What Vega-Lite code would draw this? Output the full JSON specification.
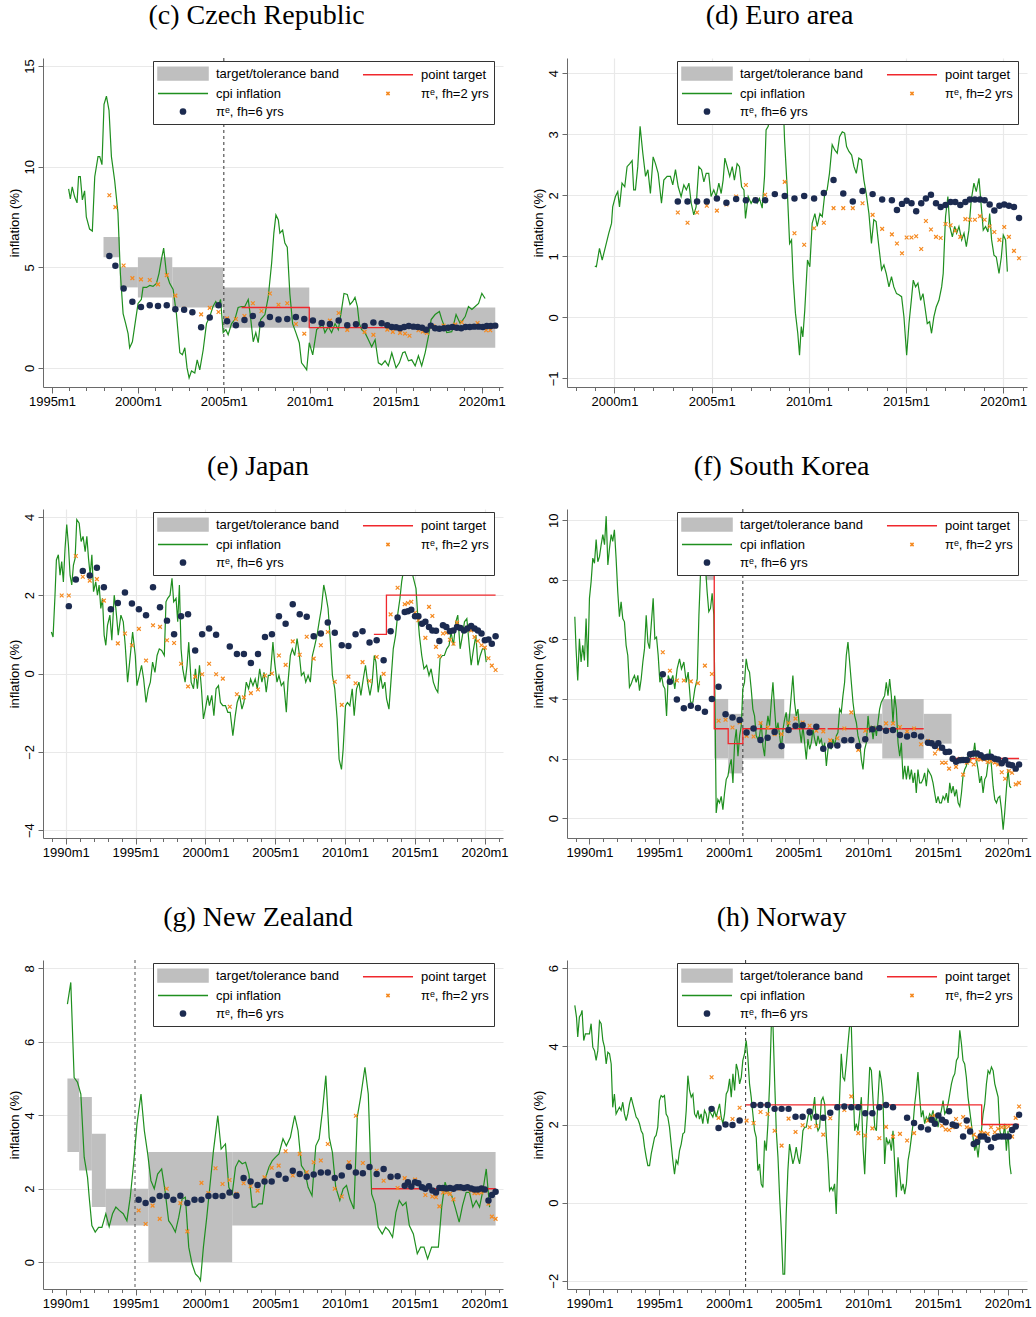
{
"$schema": "https://vega.github.io/schema/vega-lite/v6.json",
"padding": {"left": 8, "top": 1, "right": 0, "bottom": 0},
"background": "white",
"config": {
  "view": {"stroke": null},
  "font": "Liberation Sans",
  "title": {"font": "Liberation Serif", "fontSize": 28, "fontWeight": "normal", "color": "#000000", "anchor": "middle", "frame": "bounds", "baseline": "alphabetic", "offset": 28},
  "axis": {"labelFont": "Liberation Sans", "labelFontSize": 13, "labelColor": "#000000", "titleFont": "Liberation Sans", "titleFontSize": 13, "titleFontWeight": "normal", "titleColor": "#000000", "domainColor": "#6a6a6a", "tickColor": "#6a6a6a", "gridColor": "#e9e9e9", "gridWidth": 1.2, "labelPadding": 2, "tickSize": 5, "titlePadding": 2},
  "axisX": {"labelOverlap": false, "labelFlush": false},
  "legend": {"orient": "none", "legendX": 110, "legendY": 3, "columns": 2, "direction": "horizontal", "padding": 5, "strokeColor": "#333333", "fillColor": "#ffffff", "labelFont": "Liberation Sans", "labelFontSize": 13, "labelColor": "#000000", "labelOffset": 25.5, "columnPadding": 20, "rowPadding": 3, "symbolSize": 169, "symbolOffset": 17.5, "labelLimit": 300}
},
"resolve": {"scale": {"color": "independent"}, "legend": {"color": "independent"}},
"columns": 2,
"spacing": {"row": 44, "column": 23},
"datasets": {
"cz_cpi": [{"x":1995.97,"y":8.9},{"x":1996.07,"y":8.4},{"x":1996.18,"y":9.0},{"x":1996.32,"y":8.5},{"x":1996.46,"y":8.2},{"x":1996.55,"y":9.5},{"x":1996.65,"y":9.5},{"x":1996.77,"y":8.35},{"x":1996.9,"y":8.8},{"x":1997.0,"y":7.5},{"x":1997.19,"y":6.9},{"x":1997.35,"y":6.8},{"x":1997.49,"y":9.5},{"x":1997.68,"y":10.5},{"x":1997.78,"y":10.5},{"x":1997.91,"y":10.1},{"x":1998.03,"y":13.1},{"x":1998.17,"y":13.5},{"x":1998.32,"y":12.8},{"x":1998.46,"y":10.5},{"x":1998.65,"y":9.3},{"x":1998.84,"y":7.7},{"x":1998.98,"y":4.7},{"x":1999.14,"y":2.7},{"x":1999.29,"y":2.2},{"x":1999.43,"y":1.7},{"x":1999.52,"y":1.0},{"x":1999.68,"y":1.3},{"x":1999.87,"y":2.4},{"x":2000.01,"y":3.2},{"x":2000.2,"y":3.4},{"x":2000.3,"y":4.0},{"x":2000.5,"y":4.0},{"x":2000.69,"y":4.1},{"x":2000.88,"y":4.05},{"x":2001.08,"y":4.2},{"x":2001.23,"y":4.7},{"x":2001.37,"y":5.4},{"x":2001.5,"y":5.95},{"x":2001.66,"y":4.7},{"x":2001.85,"y":4.2},{"x":2002.05,"y":3.9},{"x":2002.24,"y":2.7},{"x":2002.44,"y":0.75},{"x":2002.59,"y":0.65},{"x":2002.73,"y":1.0},{"x":2002.86,"y":0.0},{"x":2002.98,"y":-0.5},{"x":2003.12,"y":-0.15},{"x":2003.31,"y":-0.25},{"x":2003.45,"y":0.4},{"x":2003.6,"y":-0.1},{"x":2003.8,"y":0.9},{"x":2003.99,"y":2.2},{"x":2004.18,"y":2.55},{"x":2004.37,"y":3.05},{"x":2004.53,"y":3.3},{"x":2004.67,"y":3.05},{"x":2004.81,"y":3.4},{"x":2004.96,"y":1.75},{"x":2005.12,"y":1.9},{"x":2005.25,"y":1.65},{"x":2005.45,"y":2.2},{"x":2005.64,"y":2.4},{"x":2005.83,"y":3.0},{"x":2006.03,"y":3.05},{"x":2006.22,"y":3.05},{"x":2006.42,"y":3.4},{"x":2006.55,"y":2.55},{"x":2006.71,"y":1.3},{"x":2006.86,"y":1.75},{"x":2007.0,"y":1.25},{"x":2007.14,"y":2.4},{"x":2007.39,"y":2.65},{"x":2007.58,"y":3.5},{"x":2007.78,"y":5.2},{"x":2007.91,"y":6.7},{"x":2008.03,"y":7.6},{"x":2008.17,"y":7.35},{"x":2008.26,"y":6.7},{"x":2008.42,"y":6.85},{"x":2008.55,"y":6.2},{"x":2008.69,"y":6.0},{"x":2008.84,"y":3.7},{"x":2009.0,"y":2.2},{"x":2009.19,"y":1.75},{"x":2009.39,"y":1.25},{"x":2009.52,"y":0.25},{"x":2009.66,"y":0.1},{"x":2009.82,"y":-0.1},{"x":2009.97,"y":1.25},{"x":2010.17,"y":0.65},{"x":2010.4,"y":1.9},{"x":2010.59,"y":2.05},{"x":2010.75,"y":2.15},{"x":2010.88,"y":1.75},{"x":2011.08,"y":2.05},{"x":2011.27,"y":1.75},{"x":2011.47,"y":2.2},{"x":2011.66,"y":1.9},{"x":2011.85,"y":2.9},{"x":2011.99,"y":3.7},{"x":2012.18,"y":3.65},{"x":2012.34,"y":3.15},{"x":2012.5,"y":3.3},{"x":2012.63,"y":3.5},{"x":2012.77,"y":3.05},{"x":2012.88,"y":2.2},{"x":2013.02,"y":1.9},{"x":2013.21,"y":1.75},{"x":2013.41,"y":1.4},{"x":2013.6,"y":1.05},{"x":2013.8,"y":1.4},{"x":2013.99,"y":0.25},{"x":2014.18,"y":0.15},{"x":2014.38,"y":0.35},{"x":2014.57,"y":0.1},{"x":2014.77,"y":0.75},{"x":2015.02,"y":0.0},{"x":2015.21,"y":0.25},{"x":2015.41,"y":0.75},{"x":2015.54,"y":0.8},{"x":2015.74,"y":0.35},{"x":2015.93,"y":0.4},{"x":2016.13,"y":0.1},{"x":2016.32,"y":0.6},{"x":2016.51,"y":0.1},{"x":2016.71,"y":0.75},{"x":2016.9,"y":1.55},{"x":2017.06,"y":2.4},{"x":2017.29,"y":2.65},{"x":2017.54,"y":2.8},{"x":2017.68,"y":2.4},{"x":2017.97,"y":1.75},{"x":2018.26,"y":1.8},{"x":2018.51,"y":2.65},{"x":2018.75,"y":2.2},{"x":2019.04,"y":2.55},{"x":2019.23,"y":3.05},{"x":2019.43,"y":2.9},{"x":2019.62,"y":3.05},{"x":2019.82,"y":3.2},{"x":2020.01,"y":3.7},{"x":2020.2,"y":3.45}],
"cz_f2": [{"x":1998.34,"y":8.58},{"x":1998.69,"y":7.99},{"x":1999.17,"y":5.09},{"x":1999.68,"y":4.46},{"x":2000.18,"y":4.4},{"x":2000.69,"y":4.37},{"x":2001.17,"y":4.15},{"x":2001.68,"y":4.61},{"x":2002.18,"y":3.59},{"x":2002.69,"y":2.94},{"x":2003.68,"y":2.66},{"x":2004.18,"y":2.98},{"x":2004.69,"y":2.78},{"x":2005.19,"y":2.46},{"x":2005.7,"y":2.43},{"x":2006.2,"y":2.58},{"x":2006.69,"y":3.21},{"x":2007.19,"y":2.83},{"x":2007.68,"y":3.7},{"x":2008.18,"y":3.14},{"x":2008.69,"y":3.21},{"x":2009.19,"y":2.18},{"x":2009.68,"y":1.7},{"x":2010.18,"y":2.32},{"x":2010.69,"y":2.27},{"x":2011.17,"y":2.35},{"x":2011.68,"y":2.73},{"x":2012.18,"y":1.89},{"x":2012.69,"y":2.2},{"x":2013.19,"y":1.79},{"x":2013.7,"y":1.64},{"x":2014.18,"y":2.2},{"x":2014.51,"y":1.9},{"x":2014.83,"y":1.79},{"x":2015.25,"y":1.74},{"x":2015.54,"y":1.7},{"x":2015.8,"y":1.6},{"x":2016.32,"y":1.87},{"x":2016.57,"y":1.8},{"x":2016.81,"y":1.74},{"x":2017.19,"y":2.07},{"x":2017.78,"y":2.1},{"x":2018.46,"y":2.15},{"x":2018.84,"y":2.27},{"x":2019.76,"y":2.23},{"x":2020.26,"y":1.87},{"x":2020.5,"y":1.87},{"x":2020.79,"y":2.1}],
"cz_f6": [{"x":1998.34,"y":5.56},{"x":1998.69,"y":5.08},{"x":1999.17,"y":3.94},{"x":1999.68,"y":3.29},{"x":2000.18,"y":3.03},{"x":2000.69,"y":3.11},{"x":2001.17,"y":3.08},{"x":2001.68,"y":3.11},{"x":2002.18,"y":2.91},{"x":2002.69,"y":2.89},{"x":2003.17,"y":2.76},{"x":2003.68,"y":2.02},{"x":2004.18,"y":2.5},{"x":2004.69,"y":3.11},{"x":2005.19,"y":2.32},{"x":2005.7,"y":2.12},{"x":2006.2,"y":2.38},{"x":2006.69,"y":2.58},{"x":2007.19,"y":2.17},{"x":2007.68,"y":2.53},{"x":2008.18,"y":2.41},{"x":2008.69,"y":2.43},{"x":2009.19,"y":2.53},{"x":2009.68,"y":2.43},{"x":2010.18,"y":2.35},{"x":2010.69,"y":2.23},{"x":2011.17,"y":2.18},{"x":2011.68,"y":2.36},{"x":2012.18,"y":2.12},{"x":2012.69,"y":2.17},{"x":2013.19,"y":2.08},{"x":2013.7,"y":2.25},{"x":2014.18,"y":2.22},{"x":2014.51,"y":2.12},{"x":2014.77,"y":2.03},{"x":2015.02,"y":2.02},{"x":2015.25,"y":1.97},{"x":2015.49,"y":2.03},{"x":2015.76,"y":2.08},{"x":2016.03,"y":2.05},{"x":2016.28,"y":2.03},{"x":2016.53,"y":2.0},{"x":2016.77,"y":1.9},{"x":2017.04,"y":2.1},{"x":2017.29,"y":1.97},{"x":2017.54,"y":1.95},{"x":2017.8,"y":1.97},{"x":2018.05,"y":2.0},{"x":2018.3,"y":2.03},{"x":2018.55,"y":2.0},{"x":2018.81,"y":1.97},{"x":2019.06,"y":2.03},{"x":2019.31,"y":2.03},{"x":2019.56,"y":2.05},{"x":2019.82,"y":2.05},{"x":2020.07,"y":2.03},{"x":2020.3,"y":2.08},{"x":2020.53,"y":2.08},{"x":2020.79,"y":2.1}],
"cz_band": [{"x":1998.0,"x2":1998.95,"y":5.5,"y2":6.5},{"x":1998.95,"x2":2000.0,"y":4.0,"y2":5.0},{"x":2000.0,"x2":2002.0,"y":3.5,"y2":5.5},{"x":2002.0,"x2":2004.96,"y":3.0,"y2":5.0},{"x":2004.96,"x2":2009.97,"y":2.0,"y2":4.0},{"x":2009.97,"x2":2020.79,"y":1.0,"y2":3.0}],
"cz_pt": [{"x":2006.03,"y":3.0,"g":1},{"x":2009.97,"y":2.0,"g":1},{"x":2020.79,"y":2.0,"g":1}],
"cz_ir": [{"x":2005.0}],
"ea_cpi": [{"x":1998.99,"y":0.84},{"x":1999.07,"y":0.83},{"x":1999.23,"y":1.13},{"x":1999.37,"y":0.94},{"x":1999.54,"y":1.16},{"x":1999.71,"y":1.38},{"x":1999.85,"y":1.54},{"x":1999.91,"y":1.81},{"x":2000.05,"y":1.98},{"x":2000.17,"y":2.06},{"x":2000.26,"y":1.81},{"x":2000.39,"y":2.2},{"x":2000.53,"y":2.14},{"x":2000.65,"y":2.47},{"x":2000.79,"y":2.52},{"x":2000.91,"y":2.57},{"x":2000.99,"y":2.09},{"x":2001.08,"y":2.09},{"x":2001.2,"y":2.47},{"x":2001.32,"y":3.13},{"x":2001.46,"y":2.69},{"x":2001.6,"y":2.31},{"x":2001.72,"y":2.42},{"x":2001.85,"y":2.03},{"x":2001.99,"y":2.63},{"x":2002.11,"y":2.52},{"x":2002.25,"y":2.36},{"x":2002.42,"y":1.87},{"x":2002.54,"y":2.25},{"x":2002.71,"y":2.31},{"x":2002.88,"y":2.31},{"x":2003.0,"y":2.17},{"x":2003.14,"y":2.42},{"x":2003.28,"y":2.14},{"x":2003.43,"y":1.98},{"x":2003.57,"y":2.17},{"x":2003.7,"y":2.09},{"x":2003.83,"y":2.2},{"x":2003.95,"y":1.87},{"x":2004.08,"y":1.68},{"x":2004.2,"y":1.81},{"x":2004.34,"y":2.47},{"x":2004.48,"y":2.42},{"x":2004.6,"y":2.22},{"x":2004.72,"y":2.36},{"x":2004.85,"y":2.36},{"x":2004.97,"y":1.98},{"x":2005.11,"y":2.09},{"x":2005.23,"y":1.98},{"x":2005.37,"y":2.2},{"x":2005.49,"y":2.03},{"x":2005.59,"y":2.25},{"x":2005.68,"y":2.61},{"x":2005.8,"y":2.47},{"x":2005.93,"y":2.31},{"x":2006.06,"y":2.47},{"x":2006.17,"y":2.25},{"x":2006.31,"y":2.52},{"x":2006.43,"y":2.47},{"x":2006.54,"y":2.14},{"x":2006.66,"y":2.09},{"x":2006.74,"y":1.62},{"x":2006.88,"y":1.98},{"x":2007.03,"y":1.87},{"x":2007.17,"y":1.95},{"x":2007.34,"y":1.87},{"x":2007.46,"y":1.95},{"x":2007.6,"y":1.79},{"x":2007.72,"y":2.31},{"x":2007.8,"y":3.07},{"x":2007.91,"y":3.13},{"x":2008.03,"y":3.45},{"x":2008.2,"y":3.6},{"x":2008.4,"y":4.0},{"x":2008.55,"y":4.0},{"x":2008.66,"y":3.7},{"x":2008.75,"y":2.91},{"x":2008.89,"y":2.09},{"x":2009.01,"y":1.21},{"x":2009.11,"y":1.27},{"x":2009.19,"y":0.64},{"x":2009.31,"y":0.07},{"x":2009.43,"y":-0.26},{"x":2009.52,"y":-0.62},{"x":2009.61,"y":-0.15},{"x":2009.69,"y":-0.32},{"x":2009.79,"y":0.12},{"x":2009.93,"y":0.94},{"x":2010.05,"y":0.83},{"x":2010.17,"y":1.54},{"x":2010.31,"y":1.7},{"x":2010.43,"y":1.49},{"x":2010.57,"y":1.7},{"x":2010.69,"y":1.65},{"x":2010.82,"y":2.03},{"x":2010.94,"y":2.09},{"x":2011.06,"y":2.36},{"x":2011.2,"y":2.83},{"x":2011.34,"y":2.74},{"x":2011.46,"y":2.69},{"x":2011.58,"y":2.96},{"x":2011.72,"y":3.04},{"x":2011.84,"y":3.02},{"x":2011.94,"y":2.8},{"x":2012.06,"y":2.72},{"x":2012.2,"y":2.66},{"x":2012.32,"y":2.47},{"x":2012.44,"y":2.36},{"x":2012.57,"y":2.61},{"x":2012.71,"y":2.58},{"x":2012.83,"y":2.25},{"x":2012.95,"y":2.03},{"x":2013.09,"y":1.7},{"x":2013.22,"y":1.21},{"x":2013.34,"y":1.6},{"x":2013.46,"y":1.57},{"x":2013.6,"y":1.16},{"x":2013.74,"y":0.78},{"x":2013.86,"y":0.86},{"x":2013.98,"y":0.72},{"x":2014.12,"y":0.5},{"x":2014.25,"y":0.67},{"x":2014.37,"y":0.5},{"x":2014.51,"y":0.39},{"x":2014.63,"y":0.37},{"x":2014.77,"y":0.34},{"x":2014.89,"y":0.01},{"x":2015.03,"y":-0.62},{"x":2015.15,"y":-0.1},{"x":2015.27,"y":0.28},{"x":2015.37,"y":0.61},{"x":2015.49,"y":0.5},{"x":2015.61,"y":0.56},{"x":2015.75,"y":0.28},{"x":2015.87,"y":0.39},{"x":2015.97,"y":0.17},{"x":2016.09,"y":-0.1},{"x":2016.21,"y":-0.07},{"x":2016.31,"y":-0.26},{"x":2016.43,"y":0.01},{"x":2016.55,"y":0.17},{"x":2016.69,"y":0.28},{"x":2016.83,"y":0.5},{"x":2016.91,"y":0.72},{"x":2017.03,"y":1.65},{"x":2017.15,"y":1.98},{"x":2017.25,"y":1.49},{"x":2017.38,"y":1.32},{"x":2017.5,"y":1.49},{"x":2017.6,"y":1.38},{"x":2017.72,"y":1.49},{"x":2017.86,"y":1.27},{"x":2017.98,"y":1.38},{"x":2018.1,"y":1.16},{"x":2018.23,"y":1.43},{"x":2018.35,"y":1.92},{"x":2018.49,"y":2.2},{"x":2018.61,"y":2.06},{"x":2018.75,"y":2.28},{"x":2018.87,"y":1.81},{"x":2018.97,"y":1.43},{"x":2019.09,"y":1.49},{"x":2019.21,"y":1.4},{"x":2019.3,"y":1.7},{"x":2019.4,"y":1.27},{"x":2019.52,"y":1.02},{"x":2019.64,"y":0.99},{"x":2019.78,"y":0.72},{"x":2019.9,"y":0.99},{"x":2020.0,"y":1.35},{"x":2020.12,"y":1.27},{"x":2020.21,"y":0.75}],
"ea_f2": [{"x":2003.26,"y":1.72},{"x":2003.76,"y":1.55},{"x":2004.25,"y":1.72},{"x":2004.75,"y":1.83},{"x":2005.27,"y":1.75},{"x":2005.76,"y":1.85},{"x":2006.26,"y":1.98},{"x":2006.76,"y":2.17},{"x":2007.26,"y":1.93},{"x":2007.75,"y":2.01},{"x":2008.76,"y":2.22},{"x":2009.26,"y":1.38},{"x":2009.76,"y":1.19},{"x":2010.27,"y":1.46},{"x":2010.77,"y":1.55},{"x":2011.27,"y":1.79},{"x":2011.77,"y":1.79},{"x":2012.26,"y":1.79},{"x":2012.76,"y":1.87},{"x":2013.28,"y":1.68},{"x":2013.77,"y":1.45},{"x":2014.27,"y":1.36},{"x":2014.53,"y":1.21},{"x":2014.79,"y":1.05},{"x":2015.03,"y":1.31},{"x":2015.28,"y":1.31},{"x":2015.52,"y":1.33},{"x":2015.78,"y":1.12},{"x":2016.02,"y":1.58},{"x":2016.28,"y":1.44},{"x":2016.54,"y":1.32},{"x":2016.78,"y":1.3},{"x":2017.03,"y":1.53},{"x":2017.29,"y":1.51},{"x":2017.53,"y":1.42},{"x":2017.79,"y":1.32},{"x":2018.05,"y":1.61},{"x":2018.28,"y":1.6},{"x":2018.54,"y":1.6},{"x":2018.8,"y":1.66},{"x":2019.04,"y":1.6},{"x":2019.3,"y":1.49},{"x":2019.54,"y":1.4},{"x":2019.8,"y":1.27},{"x":2020.05,"y":1.48},{"x":2020.29,"y":1.32},{"x":2020.55,"y":1.09},{"x":2020.81,"y":0.97}],
"ea_f6": [{"x":2003.26,"y":1.9},{"x":2003.76,"y":1.9},{"x":2004.25,"y":1.9},{"x":2004.75,"y":1.9},{"x":2005.27,"y":1.95},{"x":2005.76,"y":1.88},{"x":2006.26,"y":1.94},{"x":2006.76,"y":1.92},{"x":2007.26,"y":1.92},{"x":2007.75,"y":1.92},{"x":2008.25,"y":2.02},{"x":2008.76,"y":1.99},{"x":2009.26,"y":1.95},{"x":2009.76,"y":1.99},{"x":2010.27,"y":1.95},{"x":2010.77,"y":2.04},{"x":2011.27,"y":2.25},{"x":2011.77,"y":2.03},{"x":2012.26,"y":1.9},{"x":2012.76,"y":2.07},{"x":2013.28,"y":2.02},{"x":2013.77,"y":1.93},{"x":2014.27,"y":1.92},{"x":2014.53,"y":1.76},{"x":2014.79,"y":1.86},{"x":2015.03,"y":1.91},{"x":2015.28,"y":1.87},{"x":2015.52,"y":1.74},{"x":2015.78,"y":1.87},{"x":2016.02,"y":1.95},{"x":2016.28,"y":2.01},{"x":2016.54,"y":1.87},{"x":2016.78,"y":1.81},{"x":2017.03,"y":1.84},{"x":2017.29,"y":1.89},{"x":2017.53,"y":1.89},{"x":2017.79,"y":1.84},{"x":2018.05,"y":1.89},{"x":2018.28,"y":1.93},{"x":2018.54,"y":1.93},{"x":2018.8,"y":1.93},{"x":2019.04,"y":1.92},{"x":2019.3,"y":1.85},{"x":2019.54,"y":1.75},{"x":2019.8,"y":1.83},{"x":2020.05,"y":1.85},{"x":2020.29,"y":1.83},{"x":2020.55,"y":1.81},{"x":2020.81,"y":1.63}],
"jp_cpi": [{"x":1988.97,"y":1.06},{"x":1989.09,"y":0.93},{"x":1989.23,"y":2.0},{"x":1989.33,"y":2.9},{"x":1989.47,"y":3.03},{"x":1989.59,"y":2.51},{"x":1989.71,"y":2.86},{"x":1989.83,"y":2.34},{"x":1989.95,"y":3.2},{"x":1990.07,"y":3.8},{"x":1990.19,"y":3.28},{"x":1990.31,"y":2.51},{"x":1990.43,"y":2.26},{"x":1990.55,"y":2.77},{"x":1990.67,"y":2.94},{"x":1990.79,"y":3.93},{"x":1990.96,"y":3.84},{"x":1991.1,"y":3.37},{"x":1991.24,"y":3.5},{"x":1991.39,"y":3.11},{"x":1991.51,"y":3.5},{"x":1991.63,"y":2.94},{"x":1991.75,"y":2.51},{"x":1991.87,"y":3.03},{"x":1991.99,"y":2.09},{"x":1992.15,"y":2.34},{"x":1992.27,"y":2.0},{"x":1992.39,"y":2.26},{"x":1992.51,"y":1.66},{"x":1992.63,"y":1.92},{"x":1992.75,"y":0.98},{"x":1992.87,"y":0.72},{"x":1992.99,"y":1.23},{"x":1993.16,"y":1.49},{"x":1993.3,"y":0.85},{"x":1993.47,"y":2.0},{"x":1993.59,"y":1.66},{"x":1993.76,"y":0.98},{"x":1993.95,"y":1.49},{"x":1994.12,"y":1.32},{"x":1994.26,"y":0.72},{"x":1994.43,"y":-0.22},{"x":1994.6,"y":0.38},{"x":1994.79,"y":1.06},{"x":1994.98,"y":0.46},{"x":1995.1,"y":-0.31},{"x":1995.27,"y":-0.05},{"x":1995.43,"y":0.21},{"x":1995.58,"y":-0.14},{"x":1995.75,"y":-0.74},{"x":1995.91,"y":-0.39},{"x":1996.06,"y":-0.22},{"x":1996.22,"y":0.29},{"x":1996.39,"y":0.03},{"x":1996.54,"y":0.46},{"x":1996.7,"y":0.63},{"x":1996.87,"y":0.59},{"x":1997.06,"y":0.46},{"x":1997.18,"y":1.83},{"x":1997.3,"y":1.92},{"x":1997.47,"y":2.0},{"x":1997.61,"y":2.43},{"x":1997.73,"y":1.83},{"x":1997.9,"y":1.92},{"x":1998.02,"y":1.32},{"x":1998.14,"y":2.26},{"x":1998.26,"y":0.63},{"x":1998.38,"y":0.12},{"x":1998.55,"y":-0.22},{"x":1998.69,"y":0.21},{"x":1998.81,"y":0.8},{"x":1998.98,"y":-0.22},{"x":1999.15,"y":-0.39},{"x":1999.29,"y":0.12},{"x":1999.43,"y":-0.39},{"x":1999.58,"y":0.21},{"x":1999.72,"y":-0.39},{"x":1999.86,"y":-1.16},{"x":2000.0,"y":-0.91},{"x":2000.17,"y":-0.56},{"x":2000.29,"y":-0.82},{"x":2000.46,"y":-0.56},{"x":2000.61,"y":-1.08},{"x":2000.77,"y":-0.39},{"x":2000.94,"y":-0.31},{"x":2001.08,"y":-0.74},{"x":2001.25,"y":-0.82},{"x":2001.44,"y":-0.82},{"x":2001.61,"y":-0.99},{"x":2001.78,"y":-0.99},{"x":2001.97,"y":-1.59},{"x":2002.14,"y":-1.08},{"x":2002.28,"y":-0.74},{"x":2002.45,"y":-0.56},{"x":2002.62,"y":-0.91},{"x":2002.76,"y":-0.74},{"x":2002.93,"y":-0.22},{"x":2003.1,"y":-0.39},{"x":2003.24,"y":-0.14},{"x":2003.41,"y":-0.31},{"x":2003.57,"y":-0.14},{"x":2003.72,"y":-0.39},{"x":2003.89,"y":0.12},{"x":2004.05,"y":-0.22},{"x":2004.2,"y":0.03},{"x":2004.36,"y":-0.48},{"x":2004.51,"y":-0.05},{"x":2004.65,"y":-0.05},{"x":2004.84,"y":0.8},{"x":2004.96,"y":0.29},{"x":2005.13,"y":-0.22},{"x":2005.27,"y":-0.05},{"x":2005.44,"y":-0.31},{"x":2005.61,"y":-0.22},{"x":2005.8,"y":-0.99},{"x":2005.92,"y":-0.22},{"x":2006.09,"y":0.46},{"x":2006.23,"y":0.63},{"x":2006.4,"y":0.46},{"x":2006.57,"y":0.89},{"x":2006.71,"y":0.55},{"x":2006.88,"y":-0.05},{"x":2007.05,"y":0.03},{"x":2007.19,"y":-0.22},{"x":2007.36,"y":-0.05},{"x":2007.52,"y":-0.22},{"x":2007.67,"y":0.46},{"x":2007.84,"y":0.72},{"x":2008.0,"y":0.98},{"x":2008.15,"y":1.32},{"x":2008.31,"y":1.66},{"x":2008.48,"y":2.26},{"x":2008.63,"y":2.0},{"x":2008.79,"y":1.66},{"x":2008.96,"y":0.8},{"x":2009.1,"y":-0.05},{"x":2009.27,"y":-0.39},{"x":2009.44,"y":-1.16},{"x":2009.58,"y":-2.19},{"x":2009.75,"y":-2.45},{"x":2009.87,"y":-1.93},{"x":2010.04,"y":-0.82},{"x":2010.18,"y":-0.74},{"x":2010.35,"y":-0.82},{"x":2010.52,"y":-0.39},{"x":2010.66,"y":-1.08},{"x":2010.83,"y":-0.39},{"x":2011.0,"y":-0.22},{"x":2011.14,"y":-0.56},{"x":2011.31,"y":-0.14},{"x":2011.47,"y":0.21},{"x":2011.62,"y":-0.22},{"x":2011.79,"y":-0.56},{"x":2011.95,"y":-0.22},{"x":2012.1,"y":0.46},{"x":2012.22,"y":0.29},{"x":2012.38,"y":-0.48},{"x":2012.55,"y":-0.05},{"x":2012.7,"y":-0.39},{"x":2012.86,"y":-0.22},{"x":2012.98,"y":-0.65},{"x":2013.15,"y":-0.91},{"x":2013.29,"y":-0.22},{"x":2013.46,"y":0.63},{"x":2013.63,"y":0.98},{"x":2013.77,"y":1.49},{"x":2013.94,"y":1.92},{"x":2014.06,"y":2.34},{"x":2014.18,"y":2.6},{"x":2014.3,"y":3.6},{"x":2014.5,"y":3.4},{"x":2014.7,"y":3.0},{"x":2014.85,"y":2.51},{"x":2014.97,"y":2.34},{"x":2015.09,"y":2.17},{"x":2015.21,"y":1.49},{"x":2015.33,"y":0.98},{"x":2015.5,"y":0.46},{"x":2015.66,"y":0.12},{"x":2015.85,"y":0.21},{"x":2016.02,"y":-0.05},{"x":2016.17,"y":0.12},{"x":2016.33,"y":-0.22},{"x":2016.5,"y":-0.39},{"x":2016.65,"y":-0.48},{"x":2016.81,"y":0.38},{"x":2016.98,"y":0.46},{"x":2017.12,"y":0.46},{"x":2017.29,"y":0.63},{"x":2017.46,"y":0.72},{"x":2017.6,"y":1.06},{"x":2017.77,"y":0.72},{"x":2017.94,"y":1.32},{"x":2018.08,"y":1.49},{"x":2018.25,"y":0.63},{"x":2018.42,"y":0.98},{"x":2018.56,"y":1.32},{"x":2018.73,"y":1.4},{"x":2018.9,"y":0.72},{"x":2019.04,"y":0.21},{"x":2019.21,"y":0.63},{"x":2019.38,"y":0.98},{"x":2019.52,"y":0.21},{"x":2019.69,"y":0.46},{"x":2019.85,"y":0.63},{"x":2020.0,"y":0.63},{"x":2020.12,"y":0.29}],
"jp_f2": [{"x":1989.71,"y":1.99},{"x":1990.22,"y":1.99},{"x":1990.72,"y":3.0},{"x":1991.22,"y":2.47},{"x":1991.72,"y":2.37},{"x":1992.23,"y":2.41},{"x":1992.73,"y":1.86},{"x":1993.73,"y":0.77},{"x":1994.24,"y":1.02},{"x":1994.74,"y":0.72},{"x":1995.24,"y":1.14},{"x":1995.75,"y":0.33},{"x":1996.25,"y":1.23},{"x":1996.75,"y":1.19},{"x":1997.25,"y":0.85},{"x":1997.76,"y":0.78},{"x":1998.26,"y":0.25},{"x":1998.76,"y":-0.33},{"x":1999.27,"y":-0.08},{"x":1999.77,"y":-0.02},{"x":2000.27,"y":0.25},{"x":2000.77,"y":-0.02},{"x":2001.25,"y":-0.13},{"x":2001.75,"y":-0.85},{"x":2002.26,"y":-0.53},{"x":2002.76,"y":-0.61},{"x":2003.26,"y":-0.5},{"x":2003.77,"y":-0.41},{"x":2004.27,"y":-0.05},{"x":2004.77,"y":0.0},{"x":2005.27,"y":0.46},{"x":2005.75,"y":0.22},{"x":2006.26,"y":0.82},{"x":2006.76,"y":0.48},{"x":2007.26,"y":0.94},{"x":2007.76,"y":0.38},{"x":2008.27,"y":0.72},{"x":2008.77,"y":1.06},{"x":2009.27,"y":-0.21},{"x":2009.77,"y":-0.8},{"x":2010.25,"y":-0.08},{"x":2010.76,"y":-0.25},{"x":2011.26,"y":0.29},{"x":2011.76,"y":-0.19},{"x":2012.27,"y":0.42},{"x":2012.77,"y":-0.01},{"x":2013.27,"y":1.51},{"x":2013.77,"y":2.19},{"x":2014.28,"y":1.77},{"x":2014.51,"y":1.8},{"x":2014.75,"y":1.83},{"x":2015.02,"y":1.55},{"x":2015.26,"y":1.36},{"x":2015.76,"y":0.91},{"x":2016.02,"y":1.7},{"x":2016.26,"y":1.47},{"x":2016.52,"y":0.68},{"x":2016.76,"y":0.44},{"x":2017.02,"y":1.02},{"x":2017.26,"y":1.04},{"x":2017.52,"y":0.86},{"x":2017.77,"y":0.76},{"x":2018.03,"y":1.3},{"x":2018.27,"y":1.15},{"x":2018.53,"y":1.1},{"x":2018.77,"y":1.17},{"x":2019.04,"y":1.1},{"x":2019.28,"y":0.93},{"x":2019.52,"y":0.83},{"x":2019.78,"y":0.72},{"x":2020.02,"y":0.66},{"x":2020.28,"y":0.39},{"x":2020.52,"y":0.2},{"x":2020.79,"y":0.09}],
"jp_f6": [{"x":1990.22,"y":1.72},{"x":1990.72,"y":2.4},{"x":1991.22,"y":2.62},{"x":1991.72,"y":2.5},{"x":1992.23,"y":2.7},{"x":1992.73,"y":2.2},{"x":1993.23,"y":1.64},{"x":1993.73,"y":1.8},{"x":1994.24,"y":2.07},{"x":1994.74,"y":1.79},{"x":1995.24,"y":1.64},{"x":1995.75,"y":1.49},{"x":1996.25,"y":2.2},{"x":1996.75,"y":1.69},{"x":1997.25,"y":1.35},{"x":1997.76,"y":1.0},{"x":1998.26,"y":1.46},{"x":1998.76,"y":1.51},{"x":1999.27,"y":0.59},{"x":1999.77,"y":1.0},{"x":2000.27,"y":1.15},{"x":2000.77,"y":0.99},{"x":2001.75,"y":0.69},{"x":2002.26,"y":0.5},{"x":2002.76,"y":0.5},{"x":2003.26,"y":0.27},{"x":2003.77,"y":0.5},{"x":2004.27,"y":0.93},{"x":2004.77,"y":1.0},{"x":2005.27,"y":1.46},{"x":2005.75,"y":1.27},{"x":2006.26,"y":1.77},{"x":2006.76,"y":1.51},{"x":2007.26,"y":1.45},{"x":2007.76,"y":0.95},{"x":2008.27,"y":1.02},{"x":2008.77,"y":1.3},{"x":2009.27,"y":1.04},{"x":2009.77,"y":0.72},{"x":2010.25,"y":0.7},{"x":2010.76,"y":1.0},{"x":2011.26,"y":1.08},{"x":2011.76,"y":0.79},{"x":2012.27,"y":0.85},{"x":2012.77,"y":0.34},{"x":2013.27,"y":1.08},{"x":2013.77,"y":1.43},{"x":2014.28,"y":1.57},{"x":2014.51,"y":1.59},{"x":2014.75,"y":1.63},{"x":2015.02,"y":1.46},{"x":2015.26,"y":1.46},{"x":2015.52,"y":1.27},{"x":2015.76,"y":1.32},{"x":2016.02,"y":1.19},{"x":2016.26,"y":1.1},{"x":2016.52,"y":1.09},{"x":2016.76,"y":0.83},{"x":2017.02,"y":1.23},{"x":2017.26,"y":1.19},{"x":2017.52,"y":1.08},{"x":2017.77,"y":1.1},{"x":2018.03,"y":1.19},{"x":2018.27,"y":1.16},{"x":2018.53,"y":1.1},{"x":2018.77,"y":1.15},{"x":2019.04,"y":1.21},{"x":2019.28,"y":1.15},{"x":2019.52,"y":1.1},{"x":2019.78,"y":1.02},{"x":2020.02,"y":0.85},{"x":2020.28,"y":0.87},{"x":2020.52,"y":0.76},{"x":2020.79,"y":0.95}],
"jp_pt": [{"x":2012.07,"y":1.0,"g":1},{"x":2012.97,"y":2.0,"g":1},{"x":2020.79,"y":2.0,"g":1}],
"kr_cpi": [{"x":1988.95,"y":6.76},{"x":1989.04,"y":5.69},{"x":1989.16,"y":4.62},{"x":1989.28,"y":6.02},{"x":1989.4,"y":5.24},{"x":1989.52,"y":5.8},{"x":1989.64,"y":5.29},{"x":1989.76,"y":6.7},{"x":1989.88,"y":5.07},{"x":1990.0,"y":7.38},{"x":1990.12,"y":7.94},{"x":1990.24,"y":8.73},{"x":1990.36,"y":8.56},{"x":1990.48,"y":9.35},{"x":1990.6,"y":8.61},{"x":1990.72,"y":8.78},{"x":1990.84,"y":9.18},{"x":1990.96,"y":9.52},{"x":1991.08,"y":9.18},{"x":1991.2,"y":10.14},{"x":1991.32,"y":8.5},{"x":1991.44,"y":9.07},{"x":1991.56,"y":9.52},{"x":1991.67,"y":9.29},{"x":1991.79,"y":9.68},{"x":1991.91,"y":8.73},{"x":1992.03,"y":7.6},{"x":1992.15,"y":6.76},{"x":1992.27,"y":7.26},{"x":1992.39,"y":6.7},{"x":1992.51,"y":6.59},{"x":1992.63,"y":5.8},{"x":1992.75,"y":5.46},{"x":1992.87,"y":4.39},{"x":1992.99,"y":4.5},{"x":1993.11,"y":4.67},{"x":1993.23,"y":4.79},{"x":1993.35,"y":4.56},{"x":1993.47,"y":4.79},{"x":1993.59,"y":4.28},{"x":1993.71,"y":4.67},{"x":1993.83,"y":5.24},{"x":1993.95,"y":5.69},{"x":1994.07,"y":6.81},{"x":1994.19,"y":5.91},{"x":1994.31,"y":5.69},{"x":1994.43,"y":6.48},{"x":1994.57,"y":7.38},{"x":1994.69,"y":6.02},{"x":1994.81,"y":6.08},{"x":1994.93,"y":5.46},{"x":1995.05,"y":4.56},{"x":1995.17,"y":4.79},{"x":1995.29,"y":4.45},{"x":1995.41,"y":4.34},{"x":1995.53,"y":3.43},{"x":1995.65,"y":4.79},{"x":1995.81,"y":4.56},{"x":1995.98,"y":4.79},{"x":1996.12,"y":4.34},{"x":1996.29,"y":5.01},{"x":1996.46,"y":5.35},{"x":1996.6,"y":5.01},{"x":1996.77,"y":5.24},{"x":1996.94,"y":4.56},{"x":1997.08,"y":4.9},{"x":1997.25,"y":3.89},{"x":1997.42,"y":3.89},{"x":1997.56,"y":4.34},{"x":1997.73,"y":4.67},{"x":1997.85,"y":6.81},{"x":1997.97,"y":8.28},{"x":1998.08,"y":9.0},{"x":1998.18,"y":9.4},{"x":1998.3,"y":8.6},{"x":1998.44,"y":7.6},{"x":1998.56,"y":6.93},{"x":1998.68,"y":7.04},{"x":1998.8,"y":7.55},{"x":1998.92,"y":6.81},{"x":1999.0,"y":4.0},{"x":1999.09,"y":0.17},{"x":1999.21,"y":0.62},{"x":1999.33,"y":0.51},{"x":1999.45,"y":0.73},{"x":1999.57,"y":0.28},{"x":1999.69,"y":0.84},{"x":1999.81,"y":1.3},{"x":1999.93,"y":1.41},{"x":2000.05,"y":1.75},{"x":2000.17,"y":1.97},{"x":2000.29,"y":1.18},{"x":2000.41,"y":2.53},{"x":2000.53,"y":2.98},{"x":2000.65,"y":2.08},{"x":2000.77,"y":2.76},{"x":2000.89,"y":3.1},{"x":2001.0,"y":4.34},{"x":2001.12,"y":4.56},{"x":2001.24,"y":5.35},{"x":2001.36,"y":5.01},{"x":2001.48,"y":4.9},{"x":2001.6,"y":4.34},{"x":2001.72,"y":3.66},{"x":2001.84,"y":3.43},{"x":2001.96,"y":2.76},{"x":2002.08,"y":2.65},{"x":2002.2,"y":2.76},{"x":2002.32,"y":3.21},{"x":2002.44,"y":2.42},{"x":2002.56,"y":2.08},{"x":2002.68,"y":2.98},{"x":2002.8,"y":3.43},{"x":2002.92,"y":3.1},{"x":2003.04,"y":3.89},{"x":2003.16,"y":4.56},{"x":2003.28,"y":3.66},{"x":2003.4,"y":2.87},{"x":2003.52,"y":3.21},{"x":2003.64,"y":2.76},{"x":2003.76,"y":2.31},{"x":2003.88,"y":2.98},{"x":2004.0,"y":3.32},{"x":2004.11,"y":3.55},{"x":2004.23,"y":2.98},{"x":2004.35,"y":3.43},{"x":2004.47,"y":4.11},{"x":2004.59,"y":4.79},{"x":2004.71,"y":3.89},{"x":2004.83,"y":3.43},{"x":2004.95,"y":3.66},{"x":2005.07,"y":2.98},{"x":2005.19,"y":2.53},{"x":2005.31,"y":3.1},{"x":2005.43,"y":2.53},{"x":2005.55,"y":1.97},{"x":2005.67,"y":2.65},{"x":2005.79,"y":2.31},{"x":2005.91,"y":2.53},{"x":2006.03,"y":2.98},{"x":2006.15,"y":2.65},{"x":2006.27,"y":2.42},{"x":2006.39,"y":2.76},{"x":2006.51,"y":2.53},{"x":2006.63,"y":2.65},{"x":2006.75,"y":2.31},{"x":2006.87,"y":2.53},{"x":2006.99,"y":1.75},{"x":2007.11,"y":2.31},{"x":2007.22,"y":2.53},{"x":2007.34,"y":2.31},{"x":2007.46,"y":2.65},{"x":2007.58,"y":2.42},{"x":2007.7,"y":2.76},{"x":2007.82,"y":2.87},{"x":2007.94,"y":3.66},{"x":2008.06,"y":3.55},{"x":2008.18,"y":4.11},{"x":2008.3,"y":4.56},{"x":2008.42,"y":5.46},{"x":2008.54,"y":5.91},{"x":2008.66,"y":5.24},{"x":2008.78,"y":4.56},{"x":2008.9,"y":3.89},{"x":2009.02,"y":3.43},{"x":2009.14,"y":3.21},{"x":2009.26,"y":2.76},{"x":2009.38,"y":2.53},{"x":2009.5,"y":1.97},{"x":2009.62,"y":1.63},{"x":2009.74,"y":2.31},{"x":2009.86,"y":2.53},{"x":2009.98,"y":3.43},{"x":2010.1,"y":2.87},{"x":2010.22,"y":3.1},{"x":2010.34,"y":2.65},{"x":2010.46,"y":3.1},{"x":2010.58,"y":2.76},{"x":2010.69,"y":3.21},{"x":2010.81,"y":3.66},{"x":2010.93,"y":3.89},{"x":2011.05,"y":4.0},{"x":2011.17,"y":4.11},{"x":2011.29,"y":4.56},{"x":2011.41,"y":4.11},{"x":2011.53,"y":4.67},{"x":2011.65,"y":4.11},{"x":2011.77,"y":3.21},{"x":2011.89,"y":4.11},{"x":2012.01,"y":3.66},{"x":2012.13,"y":2.53},{"x":2012.25,"y":2.08},{"x":2012.37,"y":2.53},{"x":2012.49,"y":1.3},{"x":2012.61,"y":1.75},{"x":2012.73,"y":1.3},{"x":2012.85,"y":1.75},{"x":2012.97,"y":1.3},{"x":2013.09,"y":1.63},{"x":2013.21,"y":1.18},{"x":2013.33,"y":1.52},{"x":2013.44,"y":0.84},{"x":2013.56,"y":1.63},{"x":2013.68,"y":1.18},{"x":2013.8,"y":1.18},{"x":2013.92,"y":1.3},{"x":2014.04,"y":1.52},{"x":2014.16,"y":1.07},{"x":2014.28,"y":1.63},{"x":2014.4,"y":1.52},{"x":2014.52,"y":1.41},{"x":2014.64,"y":1.18},{"x":2014.76,"y":0.84},{"x":2014.88,"y":0.51},{"x":2015.0,"y":0.73},{"x":2015.12,"y":0.51},{"x":2015.24,"y":0.51},{"x":2015.36,"y":0.73},{"x":2015.48,"y":0.62},{"x":2015.6,"y":0.84},{"x":2015.72,"y":0.51},{"x":2015.84,"y":1.18},{"x":2015.96,"y":0.84},{"x":2016.08,"y":1.07},{"x":2016.2,"y":0.73},{"x":2016.32,"y":0.96},{"x":2016.44,"y":0.51},{"x":2016.56,"y":0.39},{"x":2016.68,"y":0.84},{"x":2016.79,"y":1.41},{"x":2016.91,"y":1.63},{"x":2017.03,"y":1.75},{"x":2017.15,"y":2.08},{"x":2017.27,"y":1.86},{"x":2017.39,"y":2.2},{"x":2017.51,"y":2.08},{"x":2017.63,"y":2.53},{"x":2017.75,"y":1.97},{"x":2017.87,"y":1.63},{"x":2017.99,"y":1.18},{"x":2018.11,"y":1.41},{"x":2018.23,"y":0.84},{"x":2018.35,"y":1.3},{"x":2018.47,"y":1.41},{"x":2018.59,"y":1.86},{"x":2018.71,"y":2.31},{"x":2018.83,"y":1.75},{"x":2018.95,"y":1.07},{"x":2019.07,"y":0.62},{"x":2019.19,"y":0.51},{"x":2019.31,"y":0.68},{"x":2019.43,"y":0.73},{"x":2019.55,"y":0.28},{"x":2019.67,"y":-0.39},{"x":2019.78,"y":0.17},{"x":2019.9,"y":0.96},{"x":2020.02,"y":1.63},{"x":2020.14,"y":1.07},{"x":2020.24,"y":1.01}],
"kr_f2": [{"x":1995.26,"y":5.57},{"x":1995.77,"y":4.95},{"x":1996.27,"y":4.62},{"x":1996.77,"y":4.62},{"x":1997.27,"y":4.59},{"x":1997.78,"y":4.53},{"x":1998.28,"y":5.12},{"x":1998.78,"y":4.84},{"x":1999.26,"y":3.27},{"x":1999.76,"y":3.3},{"x":2000.26,"y":3.04},{"x":2000.77,"y":3.21},{"x":2001.27,"y":2.76},{"x":2001.77,"y":2.74},{"x":2002.27,"y":3.19},{"x":2002.78,"y":3.04},{"x":2003.28,"y":2.82},{"x":2003.78,"y":2.82},{"x":2004.28,"y":3.19},{"x":2004.78,"y":3.34},{"x":2005.29,"y":3.21},{"x":2005.79,"y":3.1},{"x":2006.27,"y":2.93},{"x":2006.77,"y":2.91},{"x":2007.27,"y":2.61},{"x":2007.78,"y":2.68},{"x":2008.28,"y":3.01},{"x":2008.78,"y":3.55},{"x":2009.28,"y":2.29},{"x":2009.78,"y":2.93},{"x":2010.29,"y":3.02},{"x":2010.79,"y":3.04},{"x":2011.27,"y":3.18},{"x":2011.77,"y":3.18},{"x":2012.27,"y":3.06},{"x":2012.78,"y":2.91},{"x":2013.28,"y":3.01},{"x":2013.78,"y":2.48},{"x":2014.28,"y":2.59},{"x":2014.54,"y":2.53},{"x":2014.78,"y":2.17},{"x":2015.02,"y":2.31},{"x":2015.29,"y":1.86},{"x":2015.55,"y":1.86},{"x":2015.79,"y":1.66},{"x":2016.05,"y":1.97},{"x":2016.29,"y":1.72},{"x":2016.56,"y":1.99},{"x":2016.8,"y":1.46},{"x":2017.06,"y":1.86},{"x":2017.3,"y":1.91},{"x":2017.56,"y":1.8},{"x":2017.8,"y":1.97},{"x":2018.06,"y":1.97},{"x":2018.3,"y":1.97},{"x":2018.56,"y":1.88},{"x":2018.8,"y":1.91},{"x":2019.07,"y":1.86},{"x":2019.31,"y":1.8},{"x":2019.57,"y":1.54},{"x":2019.81,"y":1.32},{"x":2020.07,"y":1.58},{"x":2020.31,"y":1.52},{"x":2020.57,"y":1.13},{"x":2020.81,"y":1.18}],
"kr_f6": [{"x":1995.26,"y":4.83},{"x":1995.77,"y":4.58},{"x":1996.27,"y":3.98},{"x":1996.77,"y":3.69},{"x":1997.27,"y":3.77},{"x":1997.78,"y":3.7},{"x":1998.28,"y":3.57},{"x":1998.78,"y":4.0},{"x":1999.26,"y":4.41},{"x":1999.76,"y":3.49},{"x":2000.26,"y":3.38},{"x":2000.77,"y":3.29},{"x":2001.27,"y":2.87},{"x":2001.77,"y":3.01},{"x":2002.27,"y":2.62},{"x":2002.78,"y":2.7},{"x":2003.28,"y":2.89},{"x":2003.78,"y":2.42},{"x":2004.28,"y":2.96},{"x":2004.78,"y":3.1},{"x":2005.29,"y":3.12},{"x":2005.79,"y":2.87},{"x":2006.27,"y":3.07},{"x":2006.77,"y":2.33},{"x":2007.27,"y":2.44},{"x":2007.78,"y":2.44},{"x":2008.28,"y":2.61},{"x":2008.78,"y":2.62},{"x":2009.28,"y":2.42},{"x":2009.78,"y":2.65},{"x":2010.29,"y":2.98},{"x":2010.79,"y":3.02},{"x":2011.27,"y":2.93},{"x":2011.77,"y":2.96},{"x":2012.27,"y":2.79},{"x":2012.78,"y":2.74},{"x":2013.28,"y":2.79},{"x":2013.78,"y":2.74},{"x":2014.28,"y":2.53},{"x":2014.54,"y":2.51},{"x":2014.78,"y":2.42},{"x":2015.02,"y":2.51},{"x":2015.29,"y":2.36},{"x":2015.55,"y":2.22},{"x":2015.79,"y":2.23},{"x":2016.05,"y":1.99},{"x":2016.29,"y":1.89},{"x":2016.56,"y":1.94},{"x":2016.8,"y":1.95},{"x":2017.06,"y":1.95},{"x":2017.3,"y":2.14},{"x":2017.56,"y":2.17},{"x":2017.8,"y":2.17},{"x":2018.06,"y":2.11},{"x":2018.3,"y":2.03},{"x":2018.56,"y":2.06},{"x":2018.8,"y":2.06},{"x":2019.07,"y":1.99},{"x":2019.31,"y":1.97},{"x":2019.57,"y":1.84},{"x":2019.81,"y":1.94},{"x":2020.07,"y":1.8},{"x":2020.31,"y":1.77},{"x":2020.57,"y":1.66},{"x":2020.81,"y":1.8}],
"kr_band": [{"x":1998.33,"x2":1998.95,"y":8.0,"y2":10.0},{"x":1998.95,"x2":1999.95,"y":2.0,"y2":4.0},{"x":1999.95,"x2":2001.0,"y":1.5,"y2":3.5},{"x":2001.0,"x2":2003.97,"y":2.0,"y2":4.0},{"x":2003.97,"x2":2011.0,"y":2.5,"y2":3.5},{"x":2011.0,"x2":2013.97,"y":2.0,"y2":4.0},{"x":2013.97,"x2":2015.97,"y":2.5,"y2":3.5}],
"kr_pt": [{"x":1998.33,"y":9.0,"g":1},{"x":1998.95,"y":3.0,"g":1},{"x":1999.95,"y":2.5,"g":1},{"x":2001.0,"y":3.0,"g":1},{"x":2006.92,"y":3.0,"g":1},{"x":2007.08,"y":3.0,"g":2},{"x":2013.97,"y":3.0,"g":2},{"x":2016.03,"y":2.0,"g":3},{"x":2020.81,"y":2.0,"g":3}],
"kr_ir": [{"x":2001.0}],
"nz_cpi": [{"x":1990.12,"y":7.03},{"x":1990.36,"y":7.62},{"x":1990.6,"y":5.03},{"x":1990.84,"y":4.9},{"x":1991.08,"y":4.58},{"x":1991.32,"y":2.86},{"x":1991.56,"y":2.31},{"x":1991.68,"y":1.77},{"x":1991.87,"y":1.0},{"x":1992.11,"y":0.82},{"x":1992.35,"y":0.95},{"x":1992.59,"y":0.95},{"x":1992.87,"y":1.32},{"x":1993.11,"y":0.97},{"x":1993.35,"y":1.32},{"x":1993.59,"y":1.5},{"x":1993.83,"y":1.41},{"x":1994.12,"y":1.32},{"x":1994.38,"y":1.13},{"x":1994.62,"y":1.77},{"x":1994.86,"y":2.68},{"x":1995.1,"y":3.76},{"x":1995.39,"y":4.58},{"x":1995.63,"y":3.58},{"x":1995.87,"y":2.95},{"x":1996.1,"y":2.22},{"x":1996.34,"y":2.0},{"x":1996.58,"y":2.4},{"x":1996.87,"y":2.54},{"x":1997.11,"y":1.95},{"x":1997.37,"y":1.13},{"x":1997.61,"y":1.0},{"x":1997.85,"y":0.82},{"x":1998.09,"y":1.22},{"x":1998.33,"y":1.72},{"x":1998.57,"y":1.77},{"x":1998.81,"y":0.41},{"x":1999.05,"y":-0.05},{"x":1999.29,"y":-0.32},{"x":1999.53,"y":-0.41},{"x":1999.65,"y":-0.5},{"x":1999.86,"y":0.41},{"x":2000.1,"y":1.22},{"x":2000.34,"y":2.13},{"x":2000.58,"y":3.04},{"x":2000.89,"y":3.99},{"x":2001.13,"y":3.08},{"x":2001.44,"y":3.22},{"x":2001.68,"y":2.04},{"x":2001.92,"y":1.86},{"x":2002.16,"y":2.59},{"x":2002.4,"y":2.77},{"x":2002.64,"y":2.68},{"x":2002.88,"y":2.72},{"x":2003.12,"y":2.4},{"x":2003.36,"y":1.5},{"x":2003.6,"y":1.5},{"x":2003.84,"y":1.59},{"x":2004.08,"y":1.59},{"x":2004.32,"y":2.31},{"x":2004.56,"y":2.59},{"x":2004.8,"y":2.77},{"x":2005.03,"y":2.86},{"x":2005.27,"y":2.95},{"x":2005.56,"y":3.36},{"x":2005.8,"y":3.17},{"x":2006.09,"y":3.4},{"x":2006.4,"y":3.99},{"x":2006.64,"y":3.58},{"x":2006.88,"y":2.63},{"x":2007.12,"y":2.49},{"x":2007.36,"y":2.04},{"x":2007.64,"y":1.81},{"x":2007.91,"y":3.17},{"x":2008.15,"y":3.36},{"x":2008.39,"y":4.13},{"x":2008.63,"y":5.08},{"x":2008.87,"y":3.4},{"x":2009.1,"y":2.99},{"x":2009.34,"y":2.04},{"x":2009.63,"y":1.68},{"x":2009.87,"y":2.0},{"x":2010.11,"y":2.09},{"x":2010.35,"y":1.72},{"x":2010.64,"y":1.45},{"x":2010.88,"y":3.95},{"x":2011.12,"y":4.49},{"x":2011.43,"y":5.31},{"x":2011.67,"y":4.58},{"x":2011.91,"y":1.86},{"x":2012.15,"y":1.59},{"x":2012.38,"y":0.95},{"x":2012.67,"y":0.77},{"x":2012.91,"y":0.95},{"x":2013.15,"y":0.86},{"x":2013.41,"y":0.68},{"x":2013.65,"y":1.36},{"x":2013.89,"y":1.68},{"x":2014.13,"y":1.54},{"x":2014.37,"y":1.63},{"x":2014.61,"y":1.0},{"x":2014.9,"y":0.77},{"x":2015.18,"y":0.23},{"x":2015.42,"y":0.41},{"x":2015.66,"y":0.41},{"x":2015.92,"y":0.09},{"x":2016.21,"y":0.41},{"x":2016.45,"y":0.41},{"x":2016.69,"y":0.41},{"x":2016.93,"y":1.5},{"x":2017.17,"y":2.18},{"x":2017.41,"y":1.9},{"x":2017.65,"y":1.81},{"x":2017.89,"y":1.5},{"x":2018.18,"y":1.09},{"x":2018.42,"y":1.54},{"x":2018.68,"y":1.9},{"x":2018.92,"y":1.9},{"x":2019.16,"y":1.5},{"x":2019.4,"y":1.68},{"x":2019.64,"y":1.5},{"x":2019.88,"y":1.95},{"x":2020.12,"y":2.54},{"x":2020.36,"y":1.5}],
"nz_f2": [{"x":1995.22,"y":1.41},{"x":1995.72,"y":1.04},{"x":1996.22,"y":1.54},{"x":1996.73,"y":1.18},{"x":1997.23,"y":2.0},{"x":1998.21,"y":1.61},{"x":1998.71,"y":0.84},{"x":1999.72,"y":2.16},{"x":2000.22,"y":1.88},{"x":2000.73,"y":2.56},{"x":2001.23,"y":2.13},{"x":2001.73,"y":2.24},{"x":2002.23,"y":1.86},{"x":2002.74,"y":2.15},{"x":2003.24,"y":2.07},{"x":2003.74,"y":1.95},{"x":2004.24,"y":2.31},{"x":2004.75,"y":2.57},{"x":2005.25,"y":2.63},{"x":2005.75,"y":3.02},{"x":2006.26,"y":2.36},{"x":2006.76,"y":2.95},{"x":2007.26,"y":2.45},{"x":2007.76,"y":2.72},{"x":2008.27,"y":2.77},{"x":2008.77,"y":3.22},{"x":2009.27,"y":2.0},{"x":2009.77,"y":1.79},{"x":2010.28,"y":2.72},{"x":2010.78,"y":3.99},{"x":2011.28,"y":2.7},{"x":2012.27,"y":2.49},{"x":2012.77,"y":2.22},{"x":2013.27,"y":2.29},{"x":2013.77,"y":2.02},{"x":2014.28,"y":2.29},{"x":2014.51,"y":2.13},{"x":2014.75,"y":2.11},{"x":2015.02,"y":2.25},{"x":2015.26,"y":2.15},{"x":2015.76,"y":1.83},{"x":2016.26,"y":1.79},{"x":2016.52,"y":1.77},{"x":2016.76,"y":1.52},{"x":2017.02,"y":1.9},{"x":2017.26,"y":1.9},{"x":2017.52,"y":1.86},{"x":2017.77,"y":1.71},{"x":2018.03,"y":2.04},{"x":2018.27,"y":2.0},{"x":2018.53,"y":2.02},{"x":2018.77,"y":2.0},{"x":2019.04,"y":1.95},{"x":2019.28,"y":1.88},{"x":2019.52,"y":1.88},{"x":2019.78,"y":1.9},{"x":2020.02,"y":1.95},{"x":2020.28,"y":1.59},{"x":2020.52,"y":1.24},{"x":2020.79,"y":1.18}],
"nz_f6": [{"x":1995.22,"y":1.7},{"x":1995.72,"y":1.61},{"x":1996.22,"y":1.7},{"x":1996.73,"y":1.8},{"x":1997.23,"y":1.8},{"x":1997.71,"y":1.7},{"x":1998.21,"y":1.81},{"x":1998.71,"y":1.61},{"x":1999.22,"y":1.7},{"x":1999.72,"y":1.7},{"x":2000.22,"y":1.8},{"x":2000.73,"y":1.8},{"x":2001.23,"y":1.8},{"x":2001.73,"y":1.9},{"x":2002.23,"y":1.81},{"x":2002.74,"y":2.29},{"x":2003.24,"y":2.2},{"x":2003.74,"y":2.1},{"x":2004.24,"y":2.2},{"x":2004.75,"y":2.2},{"x":2005.25,"y":2.38},{"x":2005.75,"y":2.27},{"x":2006.26,"y":2.49},{"x":2006.76,"y":2.4},{"x":2007.26,"y":2.33},{"x":2007.76,"y":2.39},{"x":2008.27,"y":2.44},{"x":2008.77,"y":2.44},{"x":2009.27,"y":2.29},{"x":2009.77,"y":2.36},{"x":2010.28,"y":2.6},{"x":2010.78,"y":2.44},{"x":2011.28,"y":2.42},{"x":2011.76,"y":2.59},{"x":2012.27,"y":2.4},{"x":2012.77,"y":2.54},{"x":2013.27,"y":2.33},{"x":2013.77,"y":2.34},{"x":2014.28,"y":2.08},{"x":2014.51,"y":2.18},{"x":2014.75,"y":2.06},{"x":2015.02,"y":2.18},{"x":2015.26,"y":2.15},{"x":2015.52,"y":2.04},{"x":2015.76,"y":2.0},{"x":2016.02,"y":2.07},{"x":2016.26,"y":1.95},{"x":2016.52,"y":1.9},{"x":2016.76,"y":2.02},{"x":2017.02,"y":2.02},{"x":2017.26,"y":2.01},{"x":2017.52,"y":2.02},{"x":2017.77,"y":2.0},{"x":2018.03,"y":2.04},{"x":2018.27,"y":2.04},{"x":2018.53,"y":2.02},{"x":2018.77,"y":2.04},{"x":2019.04,"y":2.01},{"x":2019.28,"y":1.98},{"x":2019.52,"y":1.98},{"x":2019.78,"y":2.01},{"x":2020.02,"y":1.98},{"x":2020.28,"y":1.68},{"x":2020.52,"y":1.83},{"x":2020.79,"y":1.92}],
"nz_band": [{"x":1990.12,"x2":1990.96,"y":3.0,"y2":5.0},{"x":1990.96,"x2":1991.87,"y":2.5,"y2":4.5},{"x":1991.87,"x2":1992.87,"y":1.5,"y2":3.5},{"x":1992.87,"x2":1995.92,"y":1.0,"y2":2.0},{"x":1995.92,"x2":2001.92,"y":0.0,"y2":3.0},{"x":2001.92,"x2":2020.79,"y":1.0,"y2":3.0}],
"nz_pt": [{"x":2011.91,"y":2.0,"g":1},{"x":2020.79,"y":2.0,"g":1}],
"nz_ir": [{"x":1994.96}],
"no_cpi": [{"x":1988.95,"y":5.05},{"x":1989.07,"y":4.75},{"x":1989.16,"y":4.24},{"x":1989.28,"y":4.75},{"x":1989.4,"y":4.83},{"x":1989.47,"y":4.92},{"x":1989.59,"y":4.15},{"x":1989.71,"y":4.32},{"x":1989.88,"y":4.32},{"x":1990.0,"y":4.32},{"x":1990.12,"y":4.58},{"x":1990.24,"y":3.98},{"x":1990.36,"y":3.89},{"x":1990.48,"y":3.64},{"x":1990.6,"y":3.89},{"x":1990.72,"y":4.65},{"x":1990.84,"y":4.58},{"x":1990.96,"y":4.15},{"x":1991.08,"y":3.98},{"x":1991.2,"y":3.55},{"x":1991.32,"y":3.85},{"x":1991.44,"y":3.81},{"x":1991.56,"y":3.55},{"x":1991.67,"y":2.44},{"x":1991.79,"y":2.78},{"x":1991.91,"y":2.27},{"x":1992.03,"y":2.36},{"x":1992.15,"y":2.44},{"x":1992.27,"y":2.36},{"x":1992.39,"y":2.57},{"x":1992.51,"y":2.27},{"x":1992.63,"y":2.1},{"x":1992.75,"y":2.27},{"x":1992.87,"y":2.53},{"x":1992.99,"y":2.7},{"x":1993.11,"y":2.53},{"x":1993.23,"y":2.36},{"x":1993.35,"y":2.19},{"x":1993.47,"y":2.14},{"x":1993.59,"y":2.02},{"x":1993.71,"y":1.84},{"x":1993.83,"y":1.76},{"x":1993.95,"y":1.42},{"x":1994.07,"y":1.16},{"x":1994.19,"y":0.95},{"x":1994.31,"y":0.95},{"x":1994.43,"y":1.25},{"x":1994.55,"y":1.46},{"x":1994.67,"y":1.67},{"x":1994.78,"y":1.72},{"x":1994.9,"y":1.93},{"x":1995.02,"y":2.61},{"x":1995.14,"y":2.74},{"x":1995.26,"y":2.7},{"x":1995.38,"y":2.74},{"x":1995.5,"y":2.27},{"x":1995.62,"y":2.19},{"x":1995.74,"y":1.93},{"x":1995.86,"y":1.5},{"x":1995.98,"y":1.08},{"x":1996.1,"y":0.73},{"x":1996.22,"y":1.08},{"x":1996.34,"y":0.99},{"x":1996.46,"y":1.33},{"x":1996.58,"y":1.5},{"x":1996.7,"y":1.76},{"x":1996.82,"y":1.8},{"x":1996.94,"y":2.36},{"x":1997.06,"y":3.25},{"x":1997.18,"y":2.87},{"x":1997.3,"y":2.7},{"x":1997.42,"y":2.78},{"x":1997.54,"y":2.27},{"x":1997.66,"y":2.19},{"x":1997.78,"y":2.36},{"x":1997.89,"y":2.14},{"x":1998.01,"y":2.27},{"x":1998.13,"y":2.02},{"x":1998.25,"y":2.36},{"x":1998.37,"y":2.27},{"x":1998.49,"y":2.02},{"x":1998.61,"y":2.36},{"x":1998.73,"y":2.27},{"x":1998.85,"y":2.19},{"x":1998.97,"y":2.36},{"x":1999.09,"y":2.19},{"x":1999.21,"y":2.36},{"x":1999.33,"y":2.53},{"x":1999.45,"y":2.19},{"x":1999.57,"y":2.02},{"x":1999.69,"y":2.27},{"x":1999.81,"y":2.78},{"x":1999.93,"y":2.87},{"x":2000.05,"y":3.17},{"x":2000.17,"y":2.7},{"x":2000.29,"y":3.3},{"x":2000.41,"y":2.87},{"x":2000.53,"y":3.55},{"x":2000.65,"y":3.38},{"x":2000.77,"y":3.04},{"x":2000.89,"y":3.21},{"x":2001.0,"y":3.64},{"x":2001.12,"y":3.81},{"x":2001.24,"y":4.15},{"x":2001.36,"y":3.72},{"x":2001.48,"y":3.04},{"x":2001.6,"y":2.7},{"x":2001.72,"y":2.27},{"x":2001.84,"y":1.84},{"x":2001.96,"y":1.67},{"x":2002.08,"y":0.82},{"x":2002.2,"y":0.99},{"x":2002.32,"y":0.48},{"x":2002.44,"y":0.39},{"x":2002.56,"y":1.59},{"x":2002.68,"y":1.33},{"x":2002.8,"y":2.02},{"x":2002.92,"y":3.04},{"x":2003.04,"y":4.49},{"x":2003.1,"y":5.0},{"x":2003.16,"y":4.58},{"x":2003.28,"y":3.13},{"x":2003.4,"y":1.84},{"x":2003.52,"y":1.16},{"x":2003.64,"y":0.14},{"x":2003.76,"y":-0.72},{"x":2003.88,"y":-1.83},{"x":2004.0,"y":-1.83},{"x":2004.11,"y":-0.29},{"x":2004.23,"y":0.82},{"x":2004.35,"y":1.5},{"x":2004.47,"y":1.25},{"x":2004.59,"y":0.99},{"x":2004.71,"y":1.16},{"x":2004.83,"y":1.42},{"x":2004.95,"y":1.16},{"x":2005.07,"y":0.99},{"x":2005.19,"y":1.33},{"x":2005.31,"y":1.84},{"x":2005.43,"y":1.93},{"x":2005.55,"y":1.93},{"x":2005.67,"y":2.19},{"x":2005.79,"y":2.36},{"x":2005.91,"y":2.1},{"x":2006.03,"y":2.36},{"x":2006.15,"y":2.7},{"x":2006.27,"y":2.02},{"x":2006.39,"y":1.84},{"x":2006.51,"y":1.93},{"x":2006.63,"y":2.61},{"x":2006.75,"y":2.7},{"x":2006.87,"y":2.53},{"x":2006.99,"y":1.67},{"x":2007.11,"y":1.08},{"x":2007.22,"y":0.31},{"x":2007.34,"y":0.39},{"x":2007.46,"y":0.31},{"x":2007.58,"y":0.48},{"x":2007.7,"y":-0.29},{"x":2007.82,"y":1.16},{"x":2007.94,"y":2.7},{"x":2008.06,"y":3.81},{"x":2008.18,"y":3.21},{"x":2008.3,"y":3.13},{"x":2008.42,"y":3.55},{"x":2008.54,"y":4.06},{"x":2008.66,"y":4.53},{"x":2008.72,"y":5.0},{"x":2008.78,"y":4.53},{"x":2008.9,"y":3.04},{"x":2009.02,"y":1.84},{"x":2009.14,"y":2.02},{"x":2009.26,"y":1.84},{"x":2009.38,"y":2.27},{"x":2009.5,"y":2.7},{"x":2009.62,"y":1.42},{"x":2009.74,"y":0.73},{"x":2009.86,"y":1.84},{"x":2009.98,"y":2.53},{"x":2010.1,"y":3.47},{"x":2010.22,"y":3.38},{"x":2010.34,"y":2.61},{"x":2010.46,"y":1.93},{"x":2010.58,"y":1.84},{"x":2010.69,"y":2.61},{"x":2010.81,"y":3.38},{"x":2010.93,"y":3.13},{"x":2011.05,"y":2.7},{"x":2011.17,"y":0.99},{"x":2011.29,"y":1.67},{"x":2011.41,"y":1.5},{"x":2011.53,"y":1.59},{"x":2011.65,"y":1.33},{"x":2011.77,"y":1.84},{"x":2011.89,"y":0.99},{"x":2012.01,"y":0.14},{"x":2012.13,"y":1.16},{"x":2012.25,"y":0.73},{"x":2012.37,"y":0.31},{"x":2012.49,"y":0.48},{"x":2012.61,"y":0.22},{"x":2012.73,"y":0.48},{"x":2012.85,"y":1.08},{"x":2012.97,"y":1.33},{"x":2013.09,"y":1.67},{"x":2013.21,"y":2.02},{"x":2013.33,"y":2.53},{"x":2013.44,"y":2.87},{"x":2013.56,"y":3.34},{"x":2013.68,"y":2.7},{"x":2013.8,"y":2.19},{"x":2013.92,"y":2.36},{"x":2014.04,"y":2.02},{"x":2014.16,"y":2.19},{"x":2014.28,"y":2.1},{"x":2014.4,"y":2.27},{"x":2014.52,"y":2.19},{"x":2014.64,"y":2.36},{"x":2014.76,"y":2.02},{"x":2014.88,"y":2.19},{"x":2015.0,"y":1.93},{"x":2015.12,"y":2.19},{"x":2015.24,"y":2.36},{"x":2015.36,"y":2.61},{"x":2015.48,"y":2.27},{"x":2015.6,"y":2.36},{"x":2015.72,"y":2.53},{"x":2015.84,"y":2.78},{"x":2015.96,"y":3.04},{"x":2016.08,"y":3.21},{"x":2016.2,"y":3.3},{"x":2016.32,"y":3.64},{"x":2016.44,"y":3.72},{"x":2016.56,"y":4.41},{"x":2016.68,"y":4.06},{"x":2016.79,"y":3.64},{"x":2016.91,"y":3.55},{"x":2017.03,"y":3.21},{"x":2017.15,"y":2.7},{"x":2017.27,"y":2.36},{"x":2017.39,"y":2.02},{"x":2017.51,"y":1.67},{"x":2017.63,"y":1.33},{"x":2017.75,"y":1.5},{"x":2017.87,"y":1.16},{"x":2017.99,"y":1.59},{"x":2018.11,"y":1.84},{"x":2018.23,"y":2.27},{"x":2018.35,"y":2.53},{"x":2018.47,"y":3.04},{"x":2018.59,"y":3.38},{"x":2018.71,"y":3.3},{"x":2018.83,"y":3.47},{"x":2018.95,"y":3.38},{"x":2019.07,"y":3.04},{"x":2019.19,"y":2.87},{"x":2019.31,"y":2.7},{"x":2019.43,"y":1.84},{"x":2019.55,"y":1.67},{"x":2019.67,"y":1.67},{"x":2019.78,"y":2.02},{"x":2019.9,"y":1.33},{"x":2020.02,"y":1.84},{"x":2020.14,"y":0.99},{"x":2020.24,"y":0.73}],
"no_f2": [{"x":1998.76,"y":3.21},{"x":1999.26,"y":2.17},{"x":2000.26,"y":2.14},{"x":2000.77,"y":2.43},{"x":2001.27,"y":2.1},{"x":2001.77,"y":2.04},{"x":2002.27,"y":2.32},{"x":2002.78,"y":2.27},{"x":2003.28,"y":1.84},{"x":2003.78,"y":1.46},{"x":2004.28,"y":2.15},{"x":2004.78,"y":1.81},{"x":2005.29,"y":1.98},{"x":2005.79,"y":1.93},{"x":2006.27,"y":1.96},{"x":2006.77,"y":1.74},{"x":2007.27,"y":2.16},{"x":2007.78,"y":2.44},{"x":2008.28,"y":2.37},{"x":2008.78,"y":2.72},{"x":2009.28,"y":1.78},{"x":2009.78,"y":1.72},{"x":2010.29,"y":1.9},{"x":2010.79,"y":1.65},{"x":2011.27,"y":1.94},{"x":2011.77,"y":1.69},{"x":2012.27,"y":1.76},{"x":2012.78,"y":1.59},{"x":2013.28,"y":1.78},{"x":2013.78,"y":1.95},{"x":2014.28,"y":2.1},{"x":2014.54,"y":2.19},{"x":2014.78,"y":2.23},{"x":2015.02,"y":2.23},{"x":2015.29,"y":1.97},{"x":2015.55,"y":1.87},{"x":2015.79,"y":1.86},{"x":2016.05,"y":1.93},{"x":2016.29,"y":2.14},{"x":2016.56,"y":2.0},{"x":2016.8,"y":2.19},{"x":2017.06,"y":1.93},{"x":2017.3,"y":1.9},{"x":2017.56,"y":1.74},{"x":2017.8,"y":1.67},{"x":2018.06,"y":1.8},{"x":2018.3,"y":1.78},{"x":2018.56,"y":1.76},{"x":2018.8,"y":1.93},{"x":2019.07,"y":1.8},{"x":2019.31,"y":1.89},{"x":2019.57,"y":1.93},{"x":2019.81,"y":1.93},{"x":2020.07,"y":1.95},{"x":2020.31,"y":1.69},{"x":2020.57,"y":2.17},{"x":2020.81,"y":2.46}],
"no_f6": [{"x":1998.76,"y":2.4},{"x":1999.26,"y":1.91},{"x":1999.76,"y":2.0},{"x":2000.26,"y":1.99},{"x":2000.77,"y":2.1},{"x":2001.77,"y":2.5},{"x":2002.27,"y":2.5},{"x":2002.78,"y":2.5},{"x":2003.28,"y":2.4},{"x":2003.78,"y":2.4},{"x":2004.28,"y":2.4},{"x":2004.78,"y":2.2},{"x":2005.29,"y":2.2},{"x":2005.79,"y":2.33},{"x":2006.27,"y":2.2},{"x":2006.77,"y":2.17},{"x":2007.27,"y":2.3},{"x":2007.78,"y":2.44},{"x":2008.28,"y":2.46},{"x":2008.78,"y":2.44},{"x":2009.28,"y":2.44},{"x":2009.78,"y":2.29},{"x":2010.29,"y":2.29},{"x":2010.79,"y":2.44},{"x":2011.27,"y":2.5},{"x":2011.77,"y":2.44},{"x":2012.78,"y":2.17},{"x":2013.28,"y":2.04},{"x":2013.78,"y":1.93},{"x":2014.28,"y":1.87},{"x":2014.54,"y":2.12},{"x":2014.78,"y":2.02},{"x":2015.02,"y":2.23},{"x":2015.29,"y":2.12},{"x":2015.55,"y":2.06},{"x":2015.79,"y":2.34},{"x":2016.05,"y":2.0},{"x":2016.29,"y":1.97},{"x":2016.8,"y":1.69},{"x":2017.06,"y":2.1},{"x":2017.3,"y":1.82},{"x":2017.56,"y":1.5},{"x":2017.8,"y":1.55},{"x":2018.06,"y":1.69},{"x":2018.3,"y":1.69},{"x":2018.56,"y":1.61},{"x":2018.8,"y":1.42},{"x":2019.07,"y":1.66},{"x":2019.31,"y":1.69},{"x":2019.57,"y":1.69},{"x":2019.81,"y":1.69},{"x":2020.07,"y":1.69},{"x":2020.31,"y":1.86},{"x":2020.57,"y":1.95},{"x":2020.81,"y":2.25}],
"no_pt": [{"x":2001.2,"y":2.5,"g":1},{"x":2018.13,"y":2.0,"g":1},{"x":2020.81,"y":2.0,"g":1}],
"no_ir": [{"x":2001.2}]
},
"concat": [
{
 "title": "(c) Czech Republic", "width": 460, "height": 329,
 "resolve": {"axis": {"x": "independent"}},
 "layer": [
  {"data": {"name": "cz_band"}, "mark": {"type": "rect"}, "encoding": {"x": {"field": "x", "type": "quantitative", "axis": null}, "x2": {"field": "x2"}, "y": {"field": "y", "type": "quantitative"}, "y2": {"field": "y2"}, "color": {"datum": "target/tolerance band"}}},
  {"data": {"name": "cz_ir"}, "mark": {"type": "rule", "color": "#333333", "strokeDash": [3, 3], "strokeWidth": 1}, "encoding": {"x": {"field": "x", "type": "quantitative", "axis": null}}},
  {"data": {"name": "cz_cpi"}, "mark": {"type": "line", "strokeWidth": 1.2},
   "encoding": {
    "x": {"field": "x", "type": "quantitative", "scale": {"domain": [1994.48, 2021.24], "nice": false, "zero": false}, "axis": {"orient": "bottom", "title": null, "values": [1995, 2000, 2005, 2010, 2015, 2020], "labelExpr": "datum.value + 'm1'", "tickSize": 6}},
    "y": {"field": "y", "type": "quantitative", "scale": {"domain": [-0.95, 15.4], "nice": false, "zero": false}, "axis": {"title": "inflation (%)", "values": [0, 5, 10, 15], "format": "d", "labelAngle": -90, "labelAlign": "center", "labelBaseline": "bottom"}},
    "color": {"datum": "cpi inflation", "type": "nominal",
     "scale": {"domain": ["target/tolerance band", "point target", "cpi inflation", "πᵉ, fh=2 yrs", "πᵉ, fh=6 yrs"], "range": ["#bfbfbf", "#f0282d", "#1f8f1f", "#f5891f", "#1c2b50"]},
     "legend": {"title": null, "orient": "none", "legendX": 110, "legendY": 3, "columns": 2, "direction": "horizontal",
      "encode": {"symbols": {"update": {"size": {"value": 169}, "opacity": {"value": 1}, "strokeWidth": {"value": 1.5},
        "shape": {"signal": "datum.value == 'target/tolerance band' ? 'M-3.85,-0.97H3.85V0.97H-3.85Z' : (datum.value == 'point target' || datum.value == 'cpi inflation') ? 'M-3.85,0H3.85' : datum.value == 'πᵉ, fh=2 yrs' ? 'M-0.25,-0.25L0.25,0.25M-0.25,0.25L0.25,-0.25' : 'M-0.4,0A0.4,0.4,0,1,1,0.4,0A0.4,0.4,0,1,1,-0.4,0Z'"},
        "fill": {"signal": "datum.value == 'target/tolerance band' ? '#bfbfbf' : datum.value == 'πᵉ, fh=6 yrs' ? '#1c2b50' : 'transparent'"},
        "stroke": {"signal": "datum.value == 'point target' ? '#f0282d' : datum.value == 'cpi inflation' ? '#1f8f1f' : datum.value == 'πᵉ, fh=2 yrs' ? '#f5891f' : 'transparent'"}}}}}}
   }},
  {"data": {"name": "cz_pt"}, "mark": {"type": "line", "interpolate": "step-after", "strokeWidth": 1.3}, "encoding": {"x": {"field": "x", "type": "quantitative", "axis": null}, "y": {"field": "y", "type": "quantitative"}, "detail": {"field": "g"}, "color": {"datum": "point target"}}},
  {"data": {"name": "cz_f2"}, "mark": {"type": "point", "shape": "M-1,-1L1,1M-1,1L1,-1", "filled": false, "size": 14, "strokeWidth": 1.2, "opacity": 1}, "encoding": {"x": {"field": "x", "type": "quantitative", "axis": null}, "y": {"field": "y", "type": "quantitative"}, "color": {"datum": "πᵉ, fh=2 yrs"}}},
  {"data": {"name": "cz_f6"}, "mark": {"type": "point", "shape": "circle", "filled": true, "size": 42, "opacity": 1}, "encoding": {"x": {"field": "x", "type": "quantitative", "axis": {"orient": "bottom", "title": null, "values": [1995,1996,1997,1998,1999,2000,2001,2002,2003,2004,2005,2006,2007,2008,2009,2010,2011,2012,2013,2014,2015,2016,2017,2018,2019,2020,2021], "labels": false, "grid": false, "domain": false, "tickSize": 3.5}}, "y": {"field": "y", "type": "quantitative"}, "color": {"datum": "πᵉ, fh=6 yrs"}}}
 ]
},
{
 "title": "(d) Euro area", "width": 460, "height": 329,
 "resolve": {"axis": {"x": "independent"}},
 "layer": [
  {"data": {"name": "ea_cpi"}, "mark": {"type": "line", "strokeWidth": 1.2},
   "encoding": {
    "x": {"field": "x", "type": "quantitative", "scale": {"domain": [1997.56, 2021.22], "nice": false, "zero": false}, "axis": {"orient": "bottom", "title": null, "values": [2000, 2005, 2010, 2015, 2020], "labelExpr": "datum.value + 'm1'", "tickSize": 6}},
    "y": {"field": "y", "type": "quantitative", "scale": {"domain": [-1.14, 4.25], "nice": false, "zero": false}, "axis": {"title": "inflation (%)", "values": [-1, 0, 1, 2, 3, 4], "format": "d", "labelAngle": -90, "labelAlign": "center", "labelBaseline": "bottom"}},
    "color": {"datum": "cpi inflation", "type": "nominal",
     "scale": {"domain": ["target/tolerance band", "point target", "cpi inflation", "πᵉ, fh=2 yrs", "πᵉ, fh=6 yrs"], "range": ["#bfbfbf", "#f0282d", "#1f8f1f", "#f5891f", "#1c2b50"]},
     "legend": {"title": null, "orient": "none", "legendX": 110, "legendY": 3, "columns": 2, "direction": "horizontal",
      "encode": {"symbols": {"update": {"size": {"value": 169}, "opacity": {"value": 1}, "strokeWidth": {"value": 1.5},
        "shape": {"signal": "datum.value == 'target/tolerance band' ? 'M-3.85,-0.97H3.85V0.97H-3.85Z' : (datum.value == 'point target' || datum.value == 'cpi inflation') ? 'M-3.85,0H3.85' : datum.value == 'πᵉ, fh=2 yrs' ? 'M-0.25,-0.25L0.25,0.25M-0.25,0.25L0.25,-0.25' : 'M-0.4,0A0.4,0.4,0,1,1,0.4,0A0.4,0.4,0,1,1,-0.4,0Z'"},
        "fill": {"signal": "datum.value == 'target/tolerance band' ? '#bfbfbf' : datum.value == 'πᵉ, fh=6 yrs' ? '#1c2b50' : 'transparent'"},
        "stroke": {"signal": "datum.value == 'point target' ? '#f0282d' : datum.value == 'cpi inflation' ? '#1f8f1f' : datum.value == 'πᵉ, fh=2 yrs' ? '#f5891f' : 'transparent'"}}}}}}
   }},
  {"data": {"name": "ea_f2"}, "mark": {"type": "point", "shape": "M-1,-1L1,1M-1,1L1,-1", "filled": false, "size": 14, "strokeWidth": 1.2, "opacity": 1}, "encoding": {"x": {"field": "x", "type": "quantitative", "axis": null}, "y": {"field": "y", "type": "quantitative"}, "color": {"datum": "πᵉ, fh=2 yrs"}}},
  {"data": {"name": "ea_f6"}, "mark": {"type": "point", "shape": "circle", "filled": true, "size": 42, "opacity": 1}, "encoding": {"x": {"field": "x", "type": "quantitative", "axis": {"orient": "bottom", "title": null, "values": [1998,1999,2000,2001,2002,2003,2004,2005,2006,2007,2008,2009,2010,2011,2012,2013,2014,2015,2016,2017,2018,2019,2020,2021], "labels": false, "grid": false, "domain": false, "tickSize": 3.5}}, "y": {"field": "y", "type": "quantitative"}, "color": {"datum": "πᵉ, fh=6 yrs"}}}
 ]
},
{
 "title": "(e) Japan", "width": 460, "height": 329,
 "resolve": {"axis": {"x": "independent"}},
 "layer": [
  {"data": {"name": "jp_cpi"}, "mark": {"type": "line", "strokeWidth": 1.2},
   "encoding": {
    "x": {"field": "x", "type": "quantitative", "scale": {"domain": [1988.37, 2021.32], "nice": false, "zero": false}, "axis": {"orient": "bottom", "title": null, "values": [1990, 1995, 2000, 2005, 2010, 2015, 2020], "labelExpr": "datum.value + 'm1'", "tickSize": 6}},
    "y": {"field": "y", "type": "quantitative", "scale": {"domain": [-4.2, 4.2], "nice": false, "zero": false}, "axis": {"title": "inflation (%)", "values": [-4, -2, 0, 2, 4], "format": "d", "labelAngle": -90, "labelAlign": "center", "labelBaseline": "bottom"}},
    "color": {"datum": "cpi inflation", "type": "nominal",
     "scale": {"domain": ["target/tolerance band", "point target", "cpi inflation", "πᵉ, fh=2 yrs", "πᵉ, fh=6 yrs"], "range": ["#bfbfbf", "#f0282d", "#1f8f1f", "#f5891f", "#1c2b50"]},
     "legend": {"title": null, "orient": "none", "legendX": 110, "legendY": 3, "columns": 2, "direction": "horizontal",
      "encode": {"symbols": {"update": {"size": {"value": 169}, "opacity": {"value": 1}, "strokeWidth": {"value": 1.5},
        "shape": {"signal": "datum.value == 'target/tolerance band' ? 'M-3.85,-0.97H3.85V0.97H-3.85Z' : (datum.value == 'point target' || datum.value == 'cpi inflation') ? 'M-3.85,0H3.85' : datum.value == 'πᵉ, fh=2 yrs' ? 'M-0.25,-0.25L0.25,0.25M-0.25,0.25L0.25,-0.25' : 'M-0.4,0A0.4,0.4,0,1,1,0.4,0A0.4,0.4,0,1,1,-0.4,0Z'"},
        "fill": {"signal": "datum.value == 'target/tolerance band' ? '#bfbfbf' : datum.value == 'πᵉ, fh=6 yrs' ? '#1c2b50' : 'transparent'"},
        "stroke": {"signal": "datum.value == 'point target' ? '#f0282d' : datum.value == 'cpi inflation' ? '#1f8f1f' : datum.value == 'πᵉ, fh=2 yrs' ? '#f5891f' : 'transparent'"}}}}}}
   }},
  {"data": {"name": "jp_pt"}, "mark": {"type": "line", "interpolate": "step-after", "strokeWidth": 1.3}, "encoding": {"x": {"field": "x", "type": "quantitative", "axis": null}, "y": {"field": "y", "type": "quantitative"}, "detail": {"field": "g"}, "color": {"datum": "point target"}}},
  {"data": {"name": "jp_f2"}, "mark": {"type": "point", "shape": "M-1,-1L1,1M-1,1L1,-1", "filled": false, "size": 14, "strokeWidth": 1.2, "opacity": 1}, "encoding": {"x": {"field": "x", "type": "quantitative", "axis": null}, "y": {"field": "y", "type": "quantitative"}, "color": {"datum": "πᵉ, fh=2 yrs"}}},
  {"data": {"name": "jp_f6"}, "mark": {"type": "point", "shape": "circle", "filled": true, "size": 42, "opacity": 1}, "encoding": {"x": {"field": "x", "type": "quantitative", "axis": {"orient": "bottom", "title": null, "values": [1989,1990,1991,1992,1993,1994,1995,1996,1997,1998,1999,2000,2001,2002,2003,2004,2005,2006,2007,2008,2009,2010,2011,2012,2013,2014,2015,2016,2017,2018,2019,2020,2021], "labels": false, "grid": false, "domain": false, "tickSize": 3.5}}, "y": {"field": "y", "type": "quantitative"}, "color": {"datum": "πᵉ, fh=6 yrs"}}}
 ]
},
{
 "title": "(f) South Korea", "width": 460, "height": 329,
 "resolve": {"axis": {"x": "independent"}},
 "layer": [
  {"data": {"name": "kr_band"}, "mark": {"type": "rect"}, "encoding": {"x": {"field": "x", "type": "quantitative", "axis": null}, "x2": {"field": "x2"}, "y": {"field": "y", "type": "quantitative"}, "y2": {"field": "y2"}, "color": {"datum": "target/tolerance band"}}},
  {"data": {"name": "kr_ir"}, "mark": {"type": "rule", "color": "#333333", "strokeDash": [3, 3], "strokeWidth": 1}, "encoding": {"x": {"field": "x", "type": "quantitative", "axis": null}}},
  {"data": {"name": "kr_cpi"}, "mark": {"type": "line", "strokeWidth": 1.2},
   "encoding": {
    "x": {"field": "x", "type": "quantitative", "scale": {"domain": [1988.39, 2021.38], "nice": false, "zero": false}, "axis": {"orient": "bottom", "title": null, "values": [1990, 1995, 2000, 2005, 2010, 2015, 2020], "labelExpr": "datum.value + 'm1'", "tickSize": 6}},
    "y": {"field": "y", "type": "quantitative", "scale": {"domain": [-0.67, 10.38], "nice": false, "zero": false}, "axis": {"title": "inflation (%)", "values": [0, 2, 4, 6, 8, 10], "format": "d", "labelAngle": -90, "labelAlign": "center", "labelBaseline": "bottom"}},
    "color": {"datum": "cpi inflation", "type": "nominal",
     "scale": {"domain": ["target/tolerance band", "point target", "cpi inflation", "πᵉ, fh=2 yrs", "πᵉ, fh=6 yrs"], "range": ["#bfbfbf", "#f0282d", "#1f8f1f", "#f5891f", "#1c2b50"]},
     "legend": {"title": null, "orient": "none", "legendX": 110, "legendY": 3, "columns": 2, "direction": "horizontal",
      "encode": {"symbols": {"update": {"size": {"value": 169}, "opacity": {"value": 1}, "strokeWidth": {"value": 1.5},
        "shape": {"signal": "datum.value == 'target/tolerance band' ? 'M-3.85,-0.97H3.85V0.97H-3.85Z' : (datum.value == 'point target' || datum.value == 'cpi inflation') ? 'M-3.85,0H3.85' : datum.value == 'πᵉ, fh=2 yrs' ? 'M-0.25,-0.25L0.25,0.25M-0.25,0.25L0.25,-0.25' : 'M-0.4,0A0.4,0.4,0,1,1,0.4,0A0.4,0.4,0,1,1,-0.4,0Z'"},
        "fill": {"signal": "datum.value == 'target/tolerance band' ? '#bfbfbf' : datum.value == 'πᵉ, fh=6 yrs' ? '#1c2b50' : 'transparent'"},
        "stroke": {"signal": "datum.value == 'point target' ? '#f0282d' : datum.value == 'cpi inflation' ? '#1f8f1f' : datum.value == 'πᵉ, fh=2 yrs' ? '#f5891f' : 'transparent'"}}}}}}
   }},
  {"data": {"name": "kr_pt"}, "mark": {"type": "line", "interpolate": "step-after", "strokeWidth": 1.3}, "encoding": {"x": {"field": "x", "type": "quantitative", "axis": null}, "y": {"field": "y", "type": "quantitative"}, "detail": {"field": "g"}, "color": {"datum": "point target"}}},
  {"data": {"name": "kr_f2"}, "mark": {"type": "point", "shape": "M-1,-1L1,1M-1,1L1,-1", "filled": false, "size": 14, "strokeWidth": 1.2, "opacity": 1}, "encoding": {"x": {"field": "x", "type": "quantitative", "axis": null}, "y": {"field": "y", "type": "quantitative"}, "color": {"datum": "πᵉ, fh=2 yrs"}}},
  {"data": {"name": "kr_f6"}, "mark": {"type": "point", "shape": "circle", "filled": true, "size": 42, "opacity": 1}, "encoding": {"x": {"field": "x", "type": "quantitative", "axis": {"orient": "bottom", "title": null, "values": [1989,1990,1991,1992,1993,1994,1995,1996,1997,1998,1999,2000,2001,2002,2003,2004,2005,2006,2007,2008,2009,2010,2011,2012,2013,2014,2015,2016,2017,2018,2019,2020,2021], "labels": false, "grid": false, "domain": false, "tickSize": 3.5}}, "y": {"field": "y", "type": "quantitative"}, "color": {"datum": "πᵉ, fh=6 yrs"}}}
 ]
},
{
 "title": "(g) New Zealand", "width": 460, "height": 329,
 "resolve": {"axis": {"x": "independent"}},
 "layer": [
  {"data": {"name": "nz_band"}, "mark": {"type": "rect"}, "encoding": {"x": {"field": "x", "type": "quantitative", "axis": null}, "x2": {"field": "x2"}, "y": {"field": "y", "type": "quantitative"}, "y2": {"field": "y2"}, "color": {"datum": "target/tolerance band"}}},
  {"data": {"name": "nz_ir"}, "mark": {"type": "rule", "color": "#555555", "strokeDash": [3, 3], "strokeWidth": 1}, "encoding": {"x": {"field": "x", "type": "quantitative", "axis": null}}},
  {"data": {"name": "nz_cpi"}, "mark": {"type": "line", "strokeWidth": 1.2},
   "encoding": {
    "x": {"field": "x", "type": "quantitative", "scale": {"domain": [1988.37, 2021.32], "nice": false, "zero": false}, "axis": {"orient": "bottom", "title": null, "values": [1990, 1995, 2000, 2005, 2010, 2015, 2020], "labelExpr": "datum.value + 'm1'", "tickSize": 6}},
    "y": {"field": "y", "type": "quantitative", "scale": {"domain": [-0.73, 8.23], "nice": false, "zero": false}, "axis": {"title": "inflation (%)", "values": [0, 2, 4, 6, 8], "format": "d", "labelAngle": -90, "labelAlign": "center", "labelBaseline": "bottom"}},
    "color": {"datum": "cpi inflation", "type": "nominal",
     "scale": {"domain": ["target/tolerance band", "point target", "cpi inflation", "πᵉ, fh=2 yrs", "πᵉ, fh=6 yrs"], "range": ["#bfbfbf", "#f0282d", "#1f8f1f", "#f5891f", "#1c2b50"]},
     "legend": {"title": null, "orient": "none", "legendX": 110, "legendY": 3, "columns": 2, "direction": "horizontal",
      "encode": {"symbols": {"update": {"size": {"value": 169}, "opacity": {"value": 1}, "strokeWidth": {"value": 1.5},
        "shape": {"signal": "datum.value == 'target/tolerance band' ? 'M-3.85,-0.97H3.85V0.97H-3.85Z' : (datum.value == 'point target' || datum.value == 'cpi inflation') ? 'M-3.85,0H3.85' : datum.value == 'πᵉ, fh=2 yrs' ? 'M-0.25,-0.25L0.25,0.25M-0.25,0.25L0.25,-0.25' : 'M-0.4,0A0.4,0.4,0,1,1,0.4,0A0.4,0.4,0,1,1,-0.4,0Z'"},
        "fill": {"signal": "datum.value == 'target/tolerance band' ? '#bfbfbf' : datum.value == 'πᵉ, fh=6 yrs' ? '#1c2b50' : 'transparent'"},
        "stroke": {"signal": "datum.value == 'point target' ? '#f0282d' : datum.value == 'cpi inflation' ? '#1f8f1f' : datum.value == 'πᵉ, fh=2 yrs' ? '#f5891f' : 'transparent'"}}}}}}
   }},
  {"data": {"name": "nz_pt"}, "mark": {"type": "line", "interpolate": "step-after", "strokeWidth": 1.3}, "encoding": {"x": {"field": "x", "type": "quantitative", "axis": null}, "y": {"field": "y", "type": "quantitative"}, "detail": {"field": "g"}, "color": {"datum": "point target"}}},
  {"data": {"name": "nz_f2"}, "mark": {"type": "point", "shape": "M-1,-1L1,1M-1,1L1,-1", "filled": false, "size": 14, "strokeWidth": 1.2, "opacity": 1}, "encoding": {"x": {"field": "x", "type": "quantitative", "axis": null}, "y": {"field": "y", "type": "quantitative"}, "color": {"datum": "πᵉ, fh=2 yrs"}}},
  {"data": {"name": "nz_f6"}, "mark": {"type": "point", "shape": "circle", "filled": true, "size": 42, "opacity": 1}, "encoding": {"x": {"field": "x", "type": "quantitative", "axis": {"orient": "bottom", "title": null, "values": [1989,1990,1991,1992,1993,1994,1995,1996,1997,1998,1999,2000,2001,2002,2003,2004,2005,2006,2007,2008,2009,2010,2011,2012,2013,2014,2015,2016,2017,2018,2019,2020,2021], "labels": false, "grid": false, "domain": false, "tickSize": 3.5}}, "y": {"field": "y", "type": "quantitative"}, "color": {"datum": "πᵉ, fh=6 yrs"}}}
 ]
},
{
 "title": "(h) Norway", "width": 460, "height": 329,
 "resolve": {"axis": {"x": "independent"}},
 "layer": [
  {"data": {"name": "no_ir"}, "mark": {"type": "rule", "color": "#333333", "strokeDash": [3, 3], "strokeWidth": 1}, "encoding": {"x": {"field": "x", "type": "quantitative", "axis": null}}},
  {"data": {"name": "no_cpi"}, "mark": {"type": "line", "strokeWidth": 1.2},
   "encoding": {
    "x": {"field": "x", "type": "quantitative", "scale": {"domain": [1988.39, 2021.38], "nice": false, "zero": false}, "axis": {"orient": "bottom", "title": null, "values": [1990, 1995, 2000, 2005, 2010, 2015, 2020], "labelExpr": "datum.value + 'm1'", "tickSize": 6}},
    "y": {"field": "y", "type": "quantitative", "scale": {"domain": [-2.21, 6.21], "nice": false, "zero": false}, "axis": {"title": "inflation (%)", "values": [-2, 0, 2, 4, 6], "format": "d", "labelAngle": -90, "labelAlign": "center", "labelBaseline": "bottom"}},
    "color": {"datum": "cpi inflation", "type": "nominal",
     "scale": {"domain": ["target/tolerance band", "point target", "cpi inflation", "πᵉ, fh=2 yrs", "πᵉ, fh=6 yrs"], "range": ["#bfbfbf", "#f0282d", "#1f8f1f", "#f5891f", "#1c2b50"]},
     "legend": {"title": null, "orient": "none", "legendX": 110, "legendY": 3, "columns": 2, "direction": "horizontal",
      "encode": {"symbols": {"update": {"size": {"value": 169}, "opacity": {"value": 1}, "strokeWidth": {"value": 1.5},
        "shape": {"signal": "datum.value == 'target/tolerance band' ? 'M-3.85,-0.97H3.85V0.97H-3.85Z' : (datum.value == 'point target' || datum.value == 'cpi inflation') ? 'M-3.85,0H3.85' : datum.value == 'πᵉ, fh=2 yrs' ? 'M-0.25,-0.25L0.25,0.25M-0.25,0.25L0.25,-0.25' : 'M-0.4,0A0.4,0.4,0,1,1,0.4,0A0.4,0.4,0,1,1,-0.4,0Z'"},
        "fill": {"signal": "datum.value == 'target/tolerance band' ? '#bfbfbf' : datum.value == 'πᵉ, fh=6 yrs' ? '#1c2b50' : 'transparent'"},
        "stroke": {"signal": "datum.value == 'point target' ? '#f0282d' : datum.value == 'cpi inflation' ? '#1f8f1f' : datum.value == 'πᵉ, fh=2 yrs' ? '#f5891f' : 'transparent'"}}}}}}
   }},
  {"data": {"name": "no_pt"}, "mark": {"type": "line", "interpolate": "step-after", "strokeWidth": 1.3}, "encoding": {"x": {"field": "x", "type": "quantitative", "axis": null}, "y": {"field": "y", "type": "quantitative"}, "detail": {"field": "g"}, "color": {"datum": "point target"}}},
  {"data": {"name": "no_f2"}, "mark": {"type": "point", "shape": "M-1,-1L1,1M-1,1L1,-1", "filled": false, "size": 14, "strokeWidth": 1.2, "opacity": 1}, "encoding": {"x": {"field": "x", "type": "quantitative", "axis": null}, "y": {"field": "y", "type": "quantitative"}, "color": {"datum": "πᵉ, fh=2 yrs"}}},
  {"data": {"name": "no_f6"}, "mark": {"type": "point", "shape": "circle", "filled": true, "size": 42, "opacity": 1}, "encoding": {"x": {"field": "x", "type": "quantitative", "axis": {"orient": "bottom", "title": null, "values": [1989,1990,1991,1992,1993,1994,1995,1996,1997,1998,1999,2000,2001,2002,2003,2004,2005,2006,2007,2008,2009,2010,2011,2012,2013,2014,2015,2016,2017,2018,2019,2020,2021], "labels": false, "grid": false, "domain": false, "tickSize": 3.5}}, "y": {"field": "y", "type": "quantitative"}, "color": {"datum": "πᵉ, fh=6 yrs"}}}
 ]
}
]
}
